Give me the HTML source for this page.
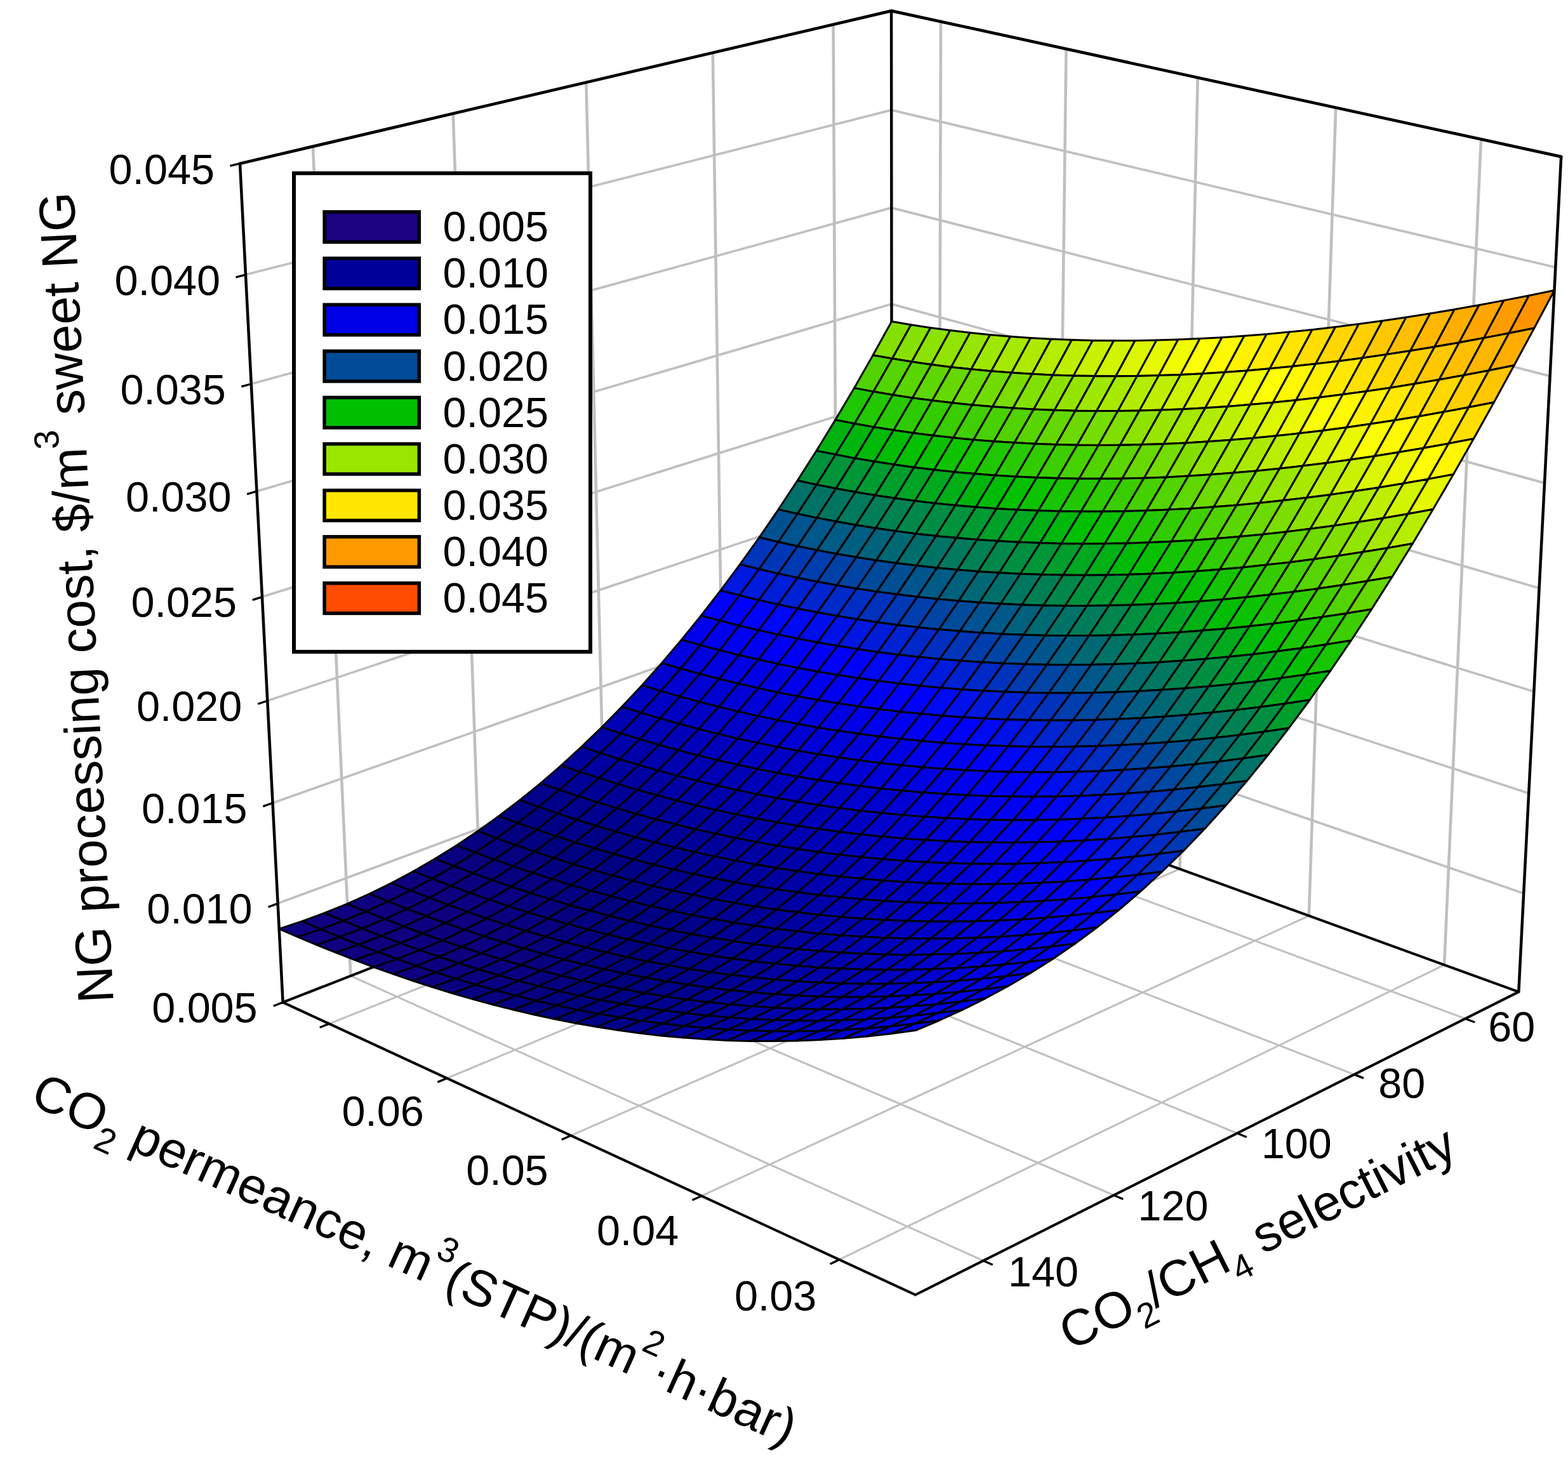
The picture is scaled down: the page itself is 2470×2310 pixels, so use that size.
<!DOCTYPE html>
<html lang="en">
<head>
<meta charset="utf-8">
<title>NG processing cost surface</title>
<style>
html,body{margin:0;padding:0;background:#fff;}
body{width:2470px;height:2310px;overflow:hidden;}
svg{display:block;}
</style>
</head>
<body>
<svg xmlns="http://www.w3.org/2000/svg" width="2470" height="2310" viewBox="0 0 2470 2310">
<rect width="2470" height="2310" fill="#fff"/>
<g stroke-linecap="butt" fill="none">
<g stroke="#c0c0c0" stroke-width="3.1">
<path d="M2275.1 1520.4L1322.1 1984.8"/>
<path d="M2061.9 1443L1105.1 1884.4"/>
<path d="M1858.5 1369.2L899.4 1789.3"/>
<path d="M1664.2 1298.8L704.1 1699"/>
<path d="M1478.5 1231.4L518.5 1613.1"/>
<path d="M2308.2 1605.2L1318.9 1238.5"/>
<path d="M2133.2 1693.1L1140.6 1308.1"/>
<path d="M1948.9 1785.7L953.8 1381"/>
<path d="M1754.5 1883.3L757.9 1457.5"/>
<path d="M1549.1 1986.5L552.3 1537.7"/>
</g>
<g stroke="#c0c0c0" stroke-width="3.7">
<path d="M437.6 1423.6L1405 1063.9"/>
<path d="M1405 1063.9L2400.2 1407.7"/>
<path d="M429.5 1265.2L1404.9 920.9"/>
<path d="M1404.9 920.9L2408.2 1250.1"/>
<path d="M421.3 1104.3L1404.8 775.8"/>
<path d="M1404.8 775.8L2416.4 1089.8"/>
<path d="M412.9 940.6L1404.6 628.5"/>
<path d="M1404.6 628.5L2424.6 926.8"/>
<path d="M404.4 774.2L1404.5 479.1"/>
<path d="M1404.5 479.1L2433.1 761.1"/>
<path d="M395.8 605L1404.4 327.4"/>
<path d="M1404.4 327.4L2441.6 592.6"/>
<path d="M387 432.8L1404.3 173.4"/>
<path d="M1404.3 173.4L2450.3 421.2"/>
</g>
<g stroke="#c0c0c0" stroke-width="4.6">
<path d="M2275.1 1520.4L2333 219.4"/>
<path d="M2061.9 1443L2104.2 169.6"/>
<path d="M1858.5 1369.2L1886.7 122.2"/>
<path d="M1664.2 1298.8L1679.5 77.1"/>
<path d="M1478.5 1231.4L1482 34"/>
<path d="M1318.9 1238.5L1312.6 38.5"/>
<path d="M1140.6 1308.1L1122.8 83"/>
<path d="M953.8 1381L923.4 129.8"/>
<path d="M757.9 1457.5L713.7 179"/>
<path d="M552.3 1537.7L492.9 230.7"/>
</g>
<g stroke="#000" stroke-linejoin="round" stroke-linecap="round">
<path stroke-width="4.0" d="M1442 2040.3L445.6 1579.4L1405.1 1204.8L2392.3 1562.9L1442 2040.3"/>
<path stroke-width="4.5" d="M1405.1 1204.8L1404.1 17.1"/>
<path stroke-width="4.5" d="M445.6 1579.4L378 257.7"/>
<path stroke-width="4.5" d="M2392.3 1562.9L2459.2 246.9"/>
<path stroke-width="4.7" d="M378 257.7L1404.1 17.1L2459.2 246.9"/>
</g>
</g>
<g stroke="#000" stroke-width="3" stroke-linejoin="round">
<path fill="#83e000" d="M1404.5 506.6L1435.1 511.7L1405.6 565.1L1375.1 559.8Z"/>
<path fill="#50d300" d="M1375.1 559.8L1405.6 565.1L1376 617.1L1345.6 611.4Z"/>
<path fill="#87e100" d="M1435.1 511.7L1465.9 516.4L1436.3 570L1405.6 565.1Z"/>
<path fill="#1ec700" d="M1345.6 611.4L1376 617.1L1346.2 667.5L1315.9 661.6Z"/>
<path fill="#54d400" d="M1405.6 565.1L1436.3 570L1406.6 622.2L1376 617.1Z"/>
<path fill="#8ce200" d="M1465.9 516.4L1496.9 520.5L1467.2 574.4L1436.3 570Z"/>
<path fill="#00b211" d="M1315.9 661.6L1346.2 667.5L1316.4 716.3L1286.1 710.2Z"/>
<path fill="#23c800" d="M1376 617.1L1406.6 622.2L1376.8 672.9L1346.2 667.5Z"/>
<path fill="#59d500" d="M1436.3 570L1467.2 574.4L1437.5 626.9L1406.6 622.2Z"/>
<path fill="#91e300" d="M1496.9 520.5L1528.1 524.2L1498.4 578.4L1467.2 574.4Z"/>
<path fill="#00913e" d="M1286.1 710.2L1316.4 716.3L1286.4 763.7L1256.2 757.2Z"/>
<path fill="#00b50d" d="M1346.2 667.5L1376.8 672.9L1346.9 722.1L1316.4 716.3Z"/>
<path fill="#27c900" d="M1406.6 622.2L1437.5 626.9L1407.7 677.8L1376.8 672.9Z"/>
<path fill="#5ed700" d="M1467.2 574.4L1498.4 578.4L1468.6 631L1437.5 626.9Z"/>
<path fill="#97e500" d="M1528.1 524.2L1559.7 527.5L1529.9 581.8L1498.4 578.4Z"/>
<path fill="#007069" d="M1256.2 757.2L1286.4 763.7L1256.3 809.6L1226.2 802.8Z"/>
<path fill="#00933a" d="M1316.4 716.3L1346.9 722.1L1316.9 769.7L1286.4 763.7Z"/>
<path fill="#00b908" d="M1376.8 672.9L1407.7 677.8L1377.7 727.3L1346.9 722.1Z"/>
<path fill="#2dca00" d="M1437.5 626.9L1468.6 631L1438.7 682.3L1407.7 677.8Z"/>
<path fill="#64d800" d="M1498.4 578.4L1529.9 581.8L1500 634.8L1468.6 631Z"/>
<path fill="#9ee700" d="M1559.7 527.5L1591.5 530.2L1561.6 584.8L1529.9 581.8Z"/>
<path fill="#005192" d="M1226.2 802.8L1256.3 809.6L1226.1 854L1196 846.8Z"/>
<path fill="#007365" d="M1286.4 763.7L1316.9 769.7L1286.8 815.9L1256.3 809.6Z"/>
<path fill="#009736" d="M1346.9 722.1L1377.7 727.3L1347.6 775.3L1316.9 769.7Z"/>
<path fill="#00bd03" d="M1407.7 677.8L1438.7 682.3L1408.7 732.1L1377.7 727.3Z"/>
<path fill="#33cc00" d="M1468.6 631L1500 634.8L1470.1 686.3L1438.7 682.3Z"/>
<path fill="#6bda00" d="M1529.9 581.8L1561.6 584.8L1531.7 638L1500 634.8Z"/>
<path fill="#a5e800" d="M1591.5 530.2L1623.5 532.4L1593.6 587.3L1561.6 584.8Z"/>
<path fill="#0034ba" d="M1196 846.8L1226.1 854L1195.7 896.8L1165.6 889.4Z"/>
<path fill="#00548f" d="M1256.3 809.6L1286.8 815.9L1256.5 860.7L1226.1 854Z"/>
<path fill="#007661" d="M1316.9 769.7L1347.6 775.3L1317.4 821.8L1286.8 815.9Z"/>
<path fill="#009b31" d="M1377.7 727.3L1408.7 732.1L1378.6 780.4L1347.6 775.3Z"/>
<path fill="#03c000" d="M1438.7 682.3L1470.1 686.3L1440 736.4L1408.7 732.1Z"/>
<path fill="#39cd00" d="M1500 634.8L1531.7 638L1501.7 689.8L1470.1 686.3Z"/>
<path fill="#72dc00" d="M1561.6 584.8L1593.6 587.3L1563.6 640.8L1531.7 638Z"/>
<path fill="#adea00" d="M1623.5 532.4L1655.8 534.2L1625.9 589.3L1593.6 587.3Z"/>
<path fill="#0018df" d="M1165.6 889.4L1195.7 896.8L1165.1 938.2L1135.1 930.4Z"/>
<path fill="#0037b6" d="M1226.1 854L1256.5 860.7L1226 903.9L1195.7 896.8Z"/>
<path fill="#00578b" d="M1286.8 815.9L1317.4 821.8L1287.1 866.9L1256.5 860.7Z"/>
<path fill="#007a5c" d="M1347.6 775.3L1378.6 780.4L1348.3 827.3L1317.4 821.8Z"/>
<path fill="#009f2b" d="M1408.7 732.1L1440 736.4L1409.8 785.1L1378.6 780.4Z"/>
<path fill="#09c100" d="M1470.1 686.3L1501.7 689.8L1471.5 740.3L1440 736.4Z"/>
<path fill="#40cf00" d="M1531.7 638L1563.6 640.8L1533.5 692.9L1501.7 689.8Z"/>
<path fill="#79dd00" d="M1593.6 587.3L1625.9 589.3L1595.8 643.1L1563.6 640.8Z"/>
<path fill="#b5ec00" d="M1655.8 534.2L1688.4 535.5L1658.4 590.9L1625.9 589.3Z"/>
<path fill="#0000fd" d="M1135.1 930.4L1165.1 938.2L1134.4 978.1L1104.4 970Z"/>
<path fill="#001bdc" d="M1195.7 896.8L1226 903.9L1195.4 945.6L1165.1 938.2Z"/>
<path fill="#003ab2" d="M1256.5 860.7L1287.1 866.9L1256.6 910.4L1226 903.9Z"/>
<path fill="#005b86" d="M1317.4 821.8L1348.3 827.3L1317.9 872.7L1287.1 866.9Z"/>
<path fill="#007e57" d="M1378.6 780.4L1409.8 785.1L1379.5 832.3L1348.3 827.3Z"/>
<path fill="#00a425" d="M1440 736.4L1471.5 740.3L1441.3 789.3L1409.8 785.1Z"/>
<path fill="#10c300" d="M1501.7 689.8L1533.5 692.9L1503.3 743.7L1471.5 740.3Z"/>
<path fill="#48d100" d="M1563.6 640.8L1595.8 643.1L1565.6 695.5L1533.5 692.9Z"/>
<path fill="#82e000" d="M1625.9 589.3L1658.4 590.9L1628.3 644.9L1595.8 643.1Z"/>
<path fill="#beef00" d="M1688.4 535.5L1721.3 536.4L1691.2 591.9L1658.4 590.9Z"/>
<path fill="#0000ed" d="M1104.4 970L1134.4 978.1L1103.5 1016.5L1073.5 1008.1Z"/>
<path fill="#0000ff" d="M1165.1 938.2L1195.4 945.6L1164.6 985.8L1134.4 978.1Z"/>
<path fill="#001dd8" d="M1226 903.9L1256.6 910.4L1225.9 952.5L1195.4 945.6Z"/>
<path fill="#003dae" d="M1287.1 866.9L1317.9 872.7L1287.4 916.6L1256.6 910.4Z"/>
<path fill="#005f80" d="M1348.3 827.3L1379.5 832.3L1349 878L1317.9 872.7Z"/>
<path fill="#008351" d="M1409.8 785.1L1441.3 789.3L1410.9 836.8L1379.5 832.3Z"/>
<path fill="#00a91e" d="M1471.5 740.3L1503.3 743.7L1473 793L1441.3 789.3Z"/>
<path fill="#18c500" d="M1533.5 692.9L1565.6 695.5L1535.4 746.6L1503.3 743.7Z"/>
<path fill="#50d300" d="M1595.8 643.1L1628.3 644.9L1598 697.6L1565.6 695.5Z"/>
<path fill="#8be200" d="M1658.4 590.9L1691.2 591.9L1661 646.3L1628.3 644.9Z"/>
<path fill="#c8f100" d="M1721.3 536.4L1754.5 536.8L1724.3 592.6L1691.2 591.9Z"/>
<path fill="#0000dd" d="M1073.5 1008.1L1103.5 1016.5L1072.4 1053.5L1042.5 1044.7Z"/>
<path fill="#0000ee" d="M1134.4 978.1L1164.6 985.8L1133.7 1024.6L1103.5 1016.5Z"/>
<path fill="#0003fb" d="M1195.4 945.6L1225.9 952.5L1195.1 993.1L1164.6 985.8Z"/>
<path fill="#0021d3" d="M1256.6 910.4L1287.4 916.6L1256.7 959L1225.9 952.5Z"/>
<path fill="#0041a8" d="M1317.9 872.7L1349 878L1318.4 922.3L1287.4 916.6Z"/>
<path fill="#00637b" d="M1379.5 832.3L1410.9 836.8L1380.4 882.9L1349 878Z"/>
<path fill="#00884a" d="M1441.3 789.3L1473 793L1442.6 840.9L1410.9 836.8Z"/>
<path fill="#00ae16" d="M1503.3 743.7L1535.4 746.6L1505 796.2L1473 793Z"/>
<path fill="#20c700" d="M1565.6 695.5L1598 697.6L1567.7 749L1535.4 746.6Z"/>
<path fill="#59d500" d="M1628.3 644.9L1661 646.3L1630.7 699.3L1598 697.6Z"/>
<path fill="#94e400" d="M1691.2 591.9L1724.3 592.6L1694 647.2L1661 646.3Z"/>
<path fill="#d1f400" d="M1754.5 536.8L1788 536.7L1757.7 592.7L1724.3 592.6Z"/>
<path fill="#0000ce" d="M1042.5 1044.7L1072.4 1053.5L1041.1 1088.9L1011.2 1079.9Z"/>
<path fill="#0000de" d="M1103.5 1016.5L1133.7 1024.6L1102.5 1061.8L1072.4 1053.5Z"/>
<path fill="#0000f0" d="M1164.6 985.8L1195.1 993.1L1164.1 1032.2L1133.7 1024.6Z"/>
<path fill="#0006f7" d="M1225.9 952.5L1256.7 959L1225.8 999.9L1195.1 993.1Z"/>
<path fill="#0024ce" d="M1287.4 916.6L1318.4 922.3L1287.7 965L1256.7 959Z"/>
<path fill="#0045a3" d="M1349 878L1380.4 882.9L1349.7 927.5L1318.4 922.3Z"/>
<path fill="#006874" d="M1410.9 836.8L1442.6 840.9L1412 887.3L1380.4 882.9Z"/>
<path fill="#008d43" d="M1473 793L1505 796.2L1474.5 844.5L1442.6 840.9Z"/>
<path fill="#00b40e" d="M1535.4 746.6L1567.7 749L1537.3 799L1505 796.2Z"/>
<path fill="#29c900" d="M1598 697.6L1630.7 699.3L1600.3 751L1567.7 749Z"/>
<path fill="#62d800" d="M1661 646.3L1694 647.2L1663.7 700.5L1630.7 699.3Z"/>
<path fill="#9ee700" d="M1724.3 592.6L1757.7 592.7L1727.4 647.6L1694 647.2Z"/>
<path fill="#dcf600" d="M1788 536.7L1821.8 536.1L1791.4 592.4L1757.7 592.7Z"/>
<path fill="#0000c1" d="M1011.2 1079.9L1041.1 1088.9L1009.6 1123L979.7 1113.6Z"/>
<path fill="#0000d0" d="M1072.4 1053.5L1102.5 1061.8L1071.2 1097.6L1041.1 1088.9Z"/>
<path fill="#0000e0" d="M1133.7 1024.6L1164.1 1032.2L1132.9 1069.8L1102.5 1061.8Z"/>
<path fill="#0000f2" d="M1195.1 993.1L1225.8 999.9L1194.8 1039.3L1164.1 1032.2Z"/>
<path fill="#000af2" d="M1256.7 959L1287.7 965L1256.8 1006.3L1225.8 999.9Z"/>
<path fill="#0029c9" d="M1318.4 922.3L1349.7 927.5L1318.9 970.6L1287.7 965Z"/>
<path fill="#004a9c" d="M1380.4 882.9L1412 887.3L1381.3 932.3L1349.7 927.5Z"/>
<path fill="#006d6d" d="M1442.6 840.9L1474.5 844.5L1443.9 891.3L1412 887.3Z"/>
<path fill="#00933b" d="M1505 796.2L1537.3 799L1506.7 847.6L1474.5 844.5Z"/>
<path fill="#00bb06" d="M1567.7 749L1600.3 751L1569.8 801.4L1537.3 799Z"/>
<path fill="#32cb00" d="M1630.7 699.3L1663.7 700.5L1633.2 752.6L1600.3 751Z"/>
<path fill="#6cda00" d="M1694 647.2L1727.4 647.6L1696.9 701.3L1663.7 700.5Z"/>
<path fill="#a8e900" d="M1757.7 592.7L1791.4 592.4L1761 647.6L1727.4 647.6Z"/>
<path fill="#e7f900" d="M1821.8 536.1L1855.8 535.1L1825.4 591.6L1791.4 592.4Z"/>
<path fill="#0000b4" d="M979.7 1113.6L1009.6 1123L977.9 1155.5L948.1 1145.8Z"/>
<path fill="#0000c2" d="M1041.1 1088.9L1071.2 1097.6L1039.7 1131.9L1009.6 1123Z"/>
<path fill="#0000d1" d="M1102.5 1061.8L1132.9 1069.8L1101.5 1105.9L1071.2 1097.6Z"/>
<path fill="#0000e2" d="M1164.1 1032.2L1194.8 1039.3L1163.5 1077.3L1132.9 1069.8Z"/>
<path fill="#0000f4" d="M1225.8 999.9L1256.8 1006.3L1225.7 1046.1L1194.8 1039.3Z"/>
<path fill="#000eed" d="M1287.7 965L1318.9 970.6L1287.9 1012.3L1256.8 1006.3Z"/>
<path fill="#002dc3" d="M1349.7 927.5L1381.3 932.3L1350.4 975.8L1318.9 970.6Z"/>
<path fill="#004f95" d="M1412 887.3L1443.9 891.3L1413.1 936.6L1381.3 932.3Z"/>
<path fill="#007365" d="M1474.5 844.5L1506.7 847.6L1476 894.8L1443.9 891.3Z"/>
<path fill="#009932" d="M1537.3 799L1569.8 801.4L1539.2 850.3L1506.7 847.6Z"/>
<path fill="#03c000" d="M1600.3 751L1633.2 752.6L1602.6 803.2L1569.8 801.4Z"/>
<path fill="#3cce00" d="M1663.7 700.5L1696.9 701.3L1666.4 753.6L1633.2 752.6Z"/>
<path fill="#76dd00" d="M1727.4 647.6L1761 647.6L1730.5 701.5L1696.9 701.3Z"/>
<path fill="#b3ec00" d="M1791.4 592.4L1825.4 591.6L1794.9 647.1L1761 647.6Z"/>
<path fill="#f2fc00" d="M1855.8 535.1L1890.2 533.6L1859.8 590.4L1825.4 591.6Z"/>
<path fill="#0000a8" d="M948.1 1145.8L977.9 1155.5L945.9 1186.6L916.1 1176.7Z"/>
<path fill="#0000b5" d="M1009.6 1123L1039.7 1131.9L1007.9 1164.8L977.9 1155.5Z"/>
<path fill="#0000c3" d="M1071.2 1097.6L1101.5 1105.9L1070 1140.5L1039.7 1131.9Z"/>
<path fill="#0000d3" d="M1132.9 1069.8L1163.5 1077.3L1132.1 1113.7L1101.5 1105.9Z"/>
<path fill="#0000e4" d="M1194.8 1039.3L1225.7 1046.1L1194.4 1084.4L1163.5 1077.3Z"/>
<path fill="#0000f7" d="M1256.8 1006.3L1287.9 1012.3L1256.8 1052.4L1225.7 1046.1Z"/>
<path fill="#0012e7" d="M1318.9 970.6L1350.4 975.8L1319.4 1017.8L1287.9 1012.3Z"/>
<path fill="#0032bc" d="M1381.3 932.3L1413.1 936.6L1382.2 980.5L1350.4 975.8Z"/>
<path fill="#00558e" d="M1443.9 891.3L1476 894.8L1445.2 940.5L1413.1 936.6Z"/>
<path fill="#00795d" d="M1506.7 847.6L1539.2 850.3L1508.4 897.8L1476 894.8Z"/>
<path fill="#00a029" d="M1569.8 801.4L1602.6 803.2L1571.9 852.5L1539.2 850.3Z"/>
<path fill="#0dc200" d="M1633.2 752.6L1666.4 753.6L1635.8 804.6L1602.6 803.2Z"/>
<path fill="#46d100" d="M1696.9 701.3L1730.5 701.5L1699.9 754.2L1666.4 753.6Z"/>
<path fill="#81df00" d="M1761 647.6L1794.9 647.1L1764.4 701.3L1730.5 701.5Z"/>
<path fill="#bfef00" d="M1825.4 591.6L1859.8 590.4L1829.2 646.1L1794.9 647.1Z"/>
<path fill="#feff00" d="M1890.2 533.6L1925 531.7L1894.4 588.7L1859.8 590.4Z"/>
<path fill="#00009d" d="M916.1 1176.7L945.9 1186.6L913.7 1216.3L884 1206.1Z"/>
<path fill="#0000a9" d="M977.9 1155.5L1007.9 1164.8L975.9 1196.2L945.9 1186.6Z"/>
<path fill="#0000b6" d="M1039.7 1131.9L1070 1140.5L1038.2 1173.7L1007.9 1164.8Z"/>
<path fill="#0000c5" d="M1101.5 1105.9L1132.1 1113.7L1100.5 1148.7L1070 1140.5Z"/>
<path fill="#0000d5" d="M1163.5 1077.3L1194.4 1084.4L1162.9 1121.1L1132.1 1113.7Z"/>
<path fill="#0000e7" d="M1225.7 1046.1L1256.8 1052.4L1225.5 1091L1194.4 1084.4Z"/>
<path fill="#0000fa" d="M1287.9 1012.3L1319.4 1017.8L1288.2 1058.2L1256.8 1052.4Z"/>
<path fill="#0017e0" d="M1350.4 975.8L1382.2 980.5L1351.1 1022.8L1319.4 1017.8Z"/>
<path fill="#0038b5" d="M1413.1 936.6L1445.2 940.5L1414.2 984.7L1382.2 980.5Z"/>
<path fill="#005b86" d="M1476 894.8L1508.4 897.8L1477.6 943.9L1445.2 940.5Z"/>
<path fill="#008054" d="M1539.2 850.3L1571.9 852.5L1541.1 900.4L1508.4 897.8Z"/>
<path fill="#00a720" d="M1602.6 803.2L1635.8 804.6L1605 854.3L1571.9 852.5Z"/>
<path fill="#17c500" d="M1666.4 753.6L1699.9 754.2L1669.2 805.6L1635.8 804.6Z"/>
<path fill="#51d300" d="M1730.5 701.5L1764.4 701.3L1733.7 754.3L1699.9 754.2Z"/>
<path fill="#8de200" d="M1794.9 647.1L1829.2 646.1L1798.5 700.6L1764.4 701.3Z"/>
<path fill="#cbf200" d="M1859.8 590.4L1894.4 588.7L1863.7 644.7L1829.2 646.1Z"/>
<path fill="#fff900" d="M1925 531.7L1960 529.3L1929.4 586.5L1894.4 588.7Z"/>
<path fill="#000093" d="M884 1206.1L913.7 1216.3L881.3 1244.5L851.6 1234.1Z"/>
<path fill="#00009e" d="M945.9 1186.6L975.9 1196.2L943.7 1226.1L913.7 1216.3Z"/>
<path fill="#0000aa" d="M1007.9 1164.8L1038.2 1173.7L1006.2 1205.3L975.9 1196.2Z"/>
<path fill="#0000b8" d="M1070 1140.5L1100.5 1148.7L1068.7 1182.1L1038.2 1173.7Z"/>
<path fill="#0000c7" d="M1132.1 1113.7L1162.9 1121.1L1131.3 1156.4L1100.5 1148.7Z"/>
<path fill="#0000d8" d="M1194.4 1084.4L1225.5 1091L1194 1128.1L1162.9 1121.1Z"/>
<path fill="#0000ea" d="M1256.8 1052.4L1288.2 1058.2L1256.9 1097.2L1225.5 1091Z"/>
<path fill="#0000fd" d="M1319.4 1017.8L1351.1 1022.8L1319.9 1063.6L1288.2 1058.2Z"/>
<path fill="#001cd9" d="M1382.2 980.5L1414.2 984.7L1383.1 1027.4L1351.1 1022.8Z"/>
<path fill="#003ead" d="M1445.2 940.5L1477.6 943.9L1446.5 988.5L1414.2 984.7Z"/>
<path fill="#00617d" d="M1508.4 897.8L1541.1 900.4L1510.2 946.8L1477.6 943.9Z"/>
<path fill="#00874b" d="M1571.9 852.5L1605 854.3L1574.1 902.5L1541.1 900.4Z"/>
<path fill="#00af16" d="M1635.8 804.6L1669.2 805.6L1638.4 855.6L1605 854.3Z"/>
<path fill="#22c700" d="M1699.9 754.2L1733.7 754.3L1702.9 806L1669.2 805.6Z"/>
<path fill="#5cd600" d="M1764.4 701.3L1798.5 700.6L1767.8 754L1733.7 754.3Z"/>
<path fill="#99e500" d="M1829.2 646.1L1863.7 644.7L1833 699.5L1798.5 700.6Z"/>
<path fill="#d7f500" d="M1894.4 588.7L1929.4 586.5L1898.6 642.8L1863.7 644.7Z"/>
<path fill="#fff300" d="M1960 529.3L1995.4 526.4L1964.7 583.9L1929.4 586.5Z"/>
<path fill="#00008a" d="M851.6 1234.1L881.3 1244.5L848.6 1271.4L818.9 1260.6Z"/>
<path fill="#000094" d="M913.7 1216.3L943.7 1226.1L911.2 1254.6L881.3 1244.5Z"/>
<path fill="#00009f" d="M975.9 1196.2L1006.2 1205.3L973.9 1235.6L943.7 1226.1Z"/>
<path fill="#0000ac" d="M1038.2 1173.7L1068.7 1182.1L1036.6 1214.1L1006.2 1205.3Z"/>
<path fill="#0000ba" d="M1100.5 1148.7L1131.3 1156.4L1099.4 1190.2L1068.7 1182.1Z"/>
<path fill="#0000c9" d="M1162.9 1121.1L1194 1128.1L1162.3 1163.7L1131.3 1156.4Z"/>
<path fill="#0000da" d="M1225.5 1091L1256.9 1097.2L1225.3 1134.6L1194 1128.1Z"/>
<path fill="#0000ed" d="M1288.2 1058.2L1319.9 1063.6L1288.5 1103L1256.9 1097.2Z"/>
<path fill="#0002fc" d="M1351.1 1022.8L1383.1 1027.4L1351.8 1068.6L1319.9 1063.6Z"/>
<path fill="#0022d2" d="M1414.2 984.7L1446.5 988.5L1415.4 1031.5L1383.1 1027.4Z"/>
<path fill="#0044a4" d="M1477.6 943.9L1510.2 946.8L1479.1 991.8L1446.5 988.5Z"/>
<path fill="#006874" d="M1541.1 900.4L1574.1 902.5L1543.1 949.3L1510.2 946.8Z"/>
<path fill="#008e41" d="M1605 854.3L1638.4 855.6L1607.4 904.2L1574.1 902.5Z"/>
<path fill="#00b70b" d="M1669.2 805.6L1702.9 806L1672 856.4L1638.4 855.6Z"/>
<path fill="#2dca00" d="M1733.7 754.3L1767.8 754L1736.9 806L1702.9 806Z"/>
<path fill="#68d900" d="M1798.5 700.6L1833 699.5L1802.2 753.2L1767.8 754Z"/>
<path fill="#a5e800" d="M1863.7 644.7L1898.6 642.8L1867.8 697.9L1833 699.5Z"/>
<path fill="#e4f800" d="M1929.4 586.5L1964.7 583.9L1933.9 640.4L1898.6 642.8Z"/>
<path fill="#ffec00" d="M1995.4 526.4L2031.1 523.1L2000.3 580.8L1964.7 583.9Z"/>
<path fill="#000082" d="M818.9 1260.6L848.6 1271.4L815.6 1296.8L786 1285.8Z"/>
<path fill="#00008b" d="M881.3 1244.5L911.2 1254.6L878.5 1281.7L848.6 1271.4Z"/>
<path fill="#000095" d="M943.7 1226.1L973.9 1235.6L941.4 1264.3L911.2 1254.6Z"/>
<path fill="#0000a1" d="M1006.2 1205.3L1036.6 1214.1L1004.3 1244.6L973.9 1235.6Z"/>
<path fill="#0000ae" d="M1068.7 1182.1L1099.4 1190.2L1067.3 1222.4L1036.6 1214.1Z"/>
<path fill="#0000bc" d="M1131.3 1156.4L1162.3 1163.7L1130.4 1197.8L1099.4 1190.2Z"/>
<path fill="#0000cc" d="M1194 1128.1L1225.3 1134.6L1193.6 1170.6L1162.3 1163.7Z"/>
<path fill="#0000dd" d="M1256.9 1097.2L1288.5 1103L1256.9 1140.7L1225.3 1134.6Z"/>
<path fill="#0000f0" d="M1319.9 1063.6L1351.8 1068.6L1320.4 1108.3L1288.5 1103Z"/>
<path fill="#0008f5" d="M1383.1 1027.4L1415.4 1031.5L1384 1073.1L1351.8 1068.6Z"/>
<path fill="#0028c9" d="M1446.5 988.5L1479.1 991.8L1447.9 1035.2L1415.4 1031.5Z"/>
<path fill="#004b9b" d="M1510.2 946.8L1543.1 949.3L1512 994.6L1479.1 991.8Z"/>
<path fill="#006f6a" d="M1574.1 902.5L1607.4 904.2L1576.4 951.3L1543.1 949.3Z"/>
<path fill="#009637" d="M1638.4 855.6L1672 856.4L1641 905.3L1607.4 904.2Z"/>
<path fill="#00bf00" d="M1702.9 806L1736.9 806L1706 856.7L1672 856.4Z"/>
<path fill="#39cd00" d="M1767.8 754L1802.2 753.2L1771.3 805.5L1736.9 806Z"/>
<path fill="#74dc00" d="M1833 699.5L1867.8 697.9L1836.9 751.9L1802.2 753.2Z"/>
<path fill="#b2ec00" d="M1898.6 642.8L1933.9 640.4L1903 695.8L1867.8 697.9Z"/>
<path fill="#f2fc00" d="M1964.7 583.9L2000.3 580.8L1969.4 637.6L1933.9 640.4Z"/>
<path fill="#ffe500" d="M2031.1 523.1L2067.2 519.4L2036.3 577.3L2000.3 580.8Z"/>
<path fill="#02007f" d="M786 1285.8L815.6 1296.8L782.4 1320.8L752.8 1309.6Z"/>
<path fill="#000083" d="M848.6 1271.4L878.5 1281.7L845.5 1307.4L815.6 1296.8Z"/>
<path fill="#00008c" d="M911.2 1254.6L941.4 1264.3L908.7 1291.7L878.5 1281.7Z"/>
<path fill="#000097" d="M973.9 1235.6L1004.3 1244.6L971.8 1273.6L941.4 1264.3Z"/>
<path fill="#0000a3" d="M1036.6 1214.1L1067.3 1222.4L1035 1253.2L1004.3 1244.6Z"/>
<path fill="#0000b0" d="M1099.4 1190.2L1130.4 1197.8L1098.3 1230.4L1067.3 1222.4Z"/>
<path fill="#0000bf" d="M1162.3 1163.7L1193.6 1170.6L1161.6 1205L1130.4 1197.8Z"/>
<path fill="#0000cf" d="M1225.3 1134.6L1256.9 1140.7L1225.1 1177L1193.6 1170.6Z"/>
<path fill="#0000e1" d="M1288.5 1103L1320.4 1108.3L1288.7 1146.4L1256.9 1140.7Z"/>
<path fill="#0000f4" d="M1351.8 1068.6L1384 1073.1L1352.5 1113.1L1320.4 1108.3Z"/>
<path fill="#000eed" d="M1415.4 1031.5L1447.9 1035.2L1416.5 1077.1L1384 1073.1Z"/>
<path fill="#002fc1" d="M1479.1 991.8L1512 994.6L1480.7 1038.4L1447.9 1035.2Z"/>
<path fill="#005292" d="M1543.1 949.3L1576.4 951.3L1545.2 997L1512 994.6Z"/>
<path fill="#007760" d="M1607.4 904.2L1641 905.3L1609.9 952.9L1576.4 951.3Z"/>
<path fill="#009e2c" d="M1672 856.4L1706 856.7L1674.9 906L1641 905.3Z"/>
<path fill="#0bc200" d="M1736.9 806L1771.3 805.5L1740.3 856.6L1706 856.7Z"/>
<path fill="#45d000" d="M1802.2 753.2L1836.9 751.9L1806 804.6L1771.3 805.5Z"/>
<path fill="#81df00" d="M1867.8 697.9L1903 695.8L1872 750.1L1836.9 751.9Z"/>
<path fill="#bfef00" d="M1933.9 640.4L1969.4 637.6L1938.5 693.3L1903 695.8Z"/>
<path fill="#ffff00" d="M2000.3 580.8L2036.3 577.3L2005.3 634.3L1969.4 637.6Z"/>
<path fill="#ffde00" d="M2067.2 519.4L2103.6 515.2L2072.6 573.3L2036.3 577.3Z"/>
<path fill="#05007f" d="M752.8 1309.6L782.4 1320.8L748.9 1343.4L719.3 1332.1Z"/>
<path fill="#02007f" d="M815.6 1296.8L845.5 1307.4L812.3 1331.6L782.4 1320.8Z"/>
<path fill="#000084" d="M878.5 1281.7L908.7 1291.7L875.6 1317.5L845.5 1307.4Z"/>
<path fill="#00008e" d="M941.4 1264.3L971.8 1273.6L939 1301.2L908.7 1291.7Z"/>
<path fill="#000099" d="M1004.3 1244.6L1035 1253.2L1002.5 1282.5L971.8 1273.6Z"/>
<path fill="#0000a5" d="M1067.3 1222.4L1098.3 1230.4L1065.9 1261.4L1035 1253.2Z"/>
<path fill="#0000b2" d="M1130.4 1197.8L1161.6 1205L1129.5 1237.8L1098.3 1230.4Z"/>
<path fill="#0000c2" d="M1193.6 1170.6L1225.1 1177L1193.1 1211.7L1161.6 1205Z"/>
<path fill="#0000d2" d="M1256.9 1140.7L1288.7 1146.4L1256.9 1183L1225.1 1177Z"/>
<path fill="#0000e4" d="M1320.4 1108.3L1352.5 1113.1L1320.9 1151.6L1288.7 1146.4Z"/>
<path fill="#0000f8" d="M1384 1073.1L1416.5 1077.1L1385 1117.5L1352.5 1113.1Z"/>
<path fill="#0014e4" d="M1447.9 1035.2L1480.7 1038.4L1449.3 1080.7L1416.5 1077.1Z"/>
<path fill="#0036b7" d="M1512 994.6L1545.2 997L1513.8 1041.2L1480.7 1038.4Z"/>
<path fill="#005988" d="M1576.4 951.3L1609.9 952.9L1578.6 998.9L1545.2 997Z"/>
<path fill="#007f55" d="M1641 905.3L1674.9 906L1643.7 953.9L1609.9 952.9Z"/>
<path fill="#00a720" d="M1706 856.7L1740.3 856.6L1709.1 906.2L1674.9 906Z"/>
<path fill="#18c500" d="M1771.3 805.5L1806 804.6L1774.9 856L1740.3 856.6Z"/>
<path fill="#52d400" d="M1836.9 751.9L1872 750.1L1841 803.1L1806 804.6Z"/>
<path fill="#8fe300" d="M1903 695.8L1938.5 693.3L1907.4 747.8L1872 750.1Z"/>
<path fill="#cdf300" d="M1969.4 637.6L2005.3 634.3L1974.3 690.3L1938.5 693.3Z"/>
<path fill="#fff800" d="M2036.3 577.3L2072.6 573.3L2041.6 630.5L2005.3 634.3Z"/>
<path fill="#ffd600" d="M2103.6 515.2L2140.4 510.6L2109.3 568.9L2072.6 573.3Z"/>
<path fill="#08007f" d="M719.3 1332.1L748.9 1343.4L715.1 1364.7L685.5 1353.1Z"/>
<path fill="#05007f" d="M782.4 1320.8L812.3 1331.6L778.7 1354.4L748.9 1343.4Z"/>
<path fill="#01007f" d="M845.5 1307.4L875.6 1317.5L842.4 1342L812.3 1331.6Z"/>
<path fill="#000086" d="M908.7 1291.7L939 1301.2L906 1327.3L875.6 1317.5Z"/>
<path fill="#00008f" d="M971.8 1273.6L1002.5 1282.5L969.6 1310.4L939 1301.2Z"/>
<path fill="#00009b" d="M1035 1253.2L1065.9 1261.4L1033.3 1291L1002.5 1282.5Z"/>
<path fill="#0000a7" d="M1098.3 1230.4L1129.5 1237.8L1097.1 1269.2L1065.9 1261.4Z"/>
<path fill="#0000b5" d="M1161.6 1205L1193.1 1211.7L1160.9 1244.9L1129.5 1237.8Z"/>
<path fill="#0000c5" d="M1225.1 1177L1256.9 1183L1224.9 1218L1193.1 1211.7Z"/>
<path fill="#0000d6" d="M1288.7 1146.4L1320.9 1151.6L1289 1188.5L1256.9 1183Z"/>
<path fill="#0000e8" d="M1352.5 1113.1L1385 1117.5L1353.2 1156.3L1320.9 1151.6Z"/>
<path fill="#0000fc" d="M1416.5 1077.1L1449.3 1080.7L1417.7 1121.4L1385 1117.5Z"/>
<path fill="#001bdb" d="M1480.7 1038.4L1513.8 1041.2L1482.3 1083.8L1449.3 1080.7Z"/>
<path fill="#003dad" d="M1545.2 997L1578.6 998.9L1547.2 1043.4L1513.8 1041.2Z"/>
<path fill="#00617d" d="M1609.9 952.9L1643.7 953.9L1612.4 1000.3L1578.6 998.9Z"/>
<path fill="#00884a" d="M1674.9 906L1709.1 906.2L1677.9 954.5L1643.7 953.9Z"/>
<path fill="#00b014" d="M1740.3 856.6L1774.9 856L1743.7 906L1709.1 906.2Z"/>
<path fill="#24c800" d="M1806 804.6L1841 803.1L1809.8 854.8L1774.9 856Z"/>
<path fill="#5fd700" d="M1872 750.1L1907.4 747.8L1876.3 801.2L1841 803.1Z"/>
<path fill="#9ce600" d="M1938.5 693.3L1974.3 690.3L1943.2 745.1L1907.4 747.8Z"/>
<path fill="#dcf600" d="M2005.3 634.3L2041.6 630.5L2010.5 686.8L1974.3 690.3Z"/>
<path fill="#fff000" d="M2072.6 573.3L2109.3 568.9L2078.2 626.3L2041.6 630.5Z"/>
<path fill="#ffcf00" d="M2140.4 510.6L2177.5 505.5L2146.4 564L2109.3 568.9Z"/>
<path fill="#0a007f" d="M685.5 1353.1L715.1 1364.7L680.9 1384.6L651.4 1372.9Z"/>
<path fill="#08007f" d="M748.9 1343.4L778.7 1354.4L744.9 1375.9L715.1 1364.7Z"/>
<path fill="#04007f" d="M812.3 1331.6L842.4 1342L808.8 1365.1L778.7 1354.4Z"/>
<path fill="#00007f" d="M875.6 1317.5L906 1327.3L872.7 1352L842.4 1342Z"/>
<path fill="#000087" d="M939 1301.2L969.6 1310.4L936.6 1336.7L906 1327.3Z"/>
<path fill="#000091" d="M1002.5 1282.5L1033.3 1291L1000.5 1319.1L969.6 1310.4Z"/>
<path fill="#00009d" d="M1065.9 1261.4L1097.1 1269.2L1064.5 1299L1033.3 1291Z"/>
<path fill="#0000aa" d="M1129.5 1237.8L1160.9 1244.9L1128.5 1276.5L1097.1 1269.2Z"/>
<path fill="#0000b8" d="M1193.1 1211.7L1224.9 1218L1192.7 1251.5L1160.9 1244.9Z"/>
<path fill="#0000c8" d="M1256.9 1183L1289 1188.5L1256.9 1223.8L1224.9 1218Z"/>
<path fill="#0000d9" d="M1320.9 1151.6L1353.2 1156.3L1321.3 1193.5L1289 1188.5Z"/>
<path fill="#0000ec" d="M1385 1117.5L1417.7 1121.4L1385.9 1160.5L1353.2 1156.3Z"/>
<path fill="#0002fc" d="M1449.3 1080.7L1482.3 1083.8L1450.7 1124.8L1417.7 1121.4Z"/>
<path fill="#0022d1" d="M1513.8 1041.2L1547.2 1043.4L1515.7 1086.4L1482.3 1083.8Z"/>
<path fill="#0045a3" d="M1578.6 998.9L1612.4 1000.3L1581 1045.2L1547.2 1043.4Z"/>
<path fill="#006a72" d="M1643.7 953.9L1677.9 954.5L1646.5 1001.2L1612.4 1000.3Z"/>
<path fill="#00913e" d="M1709.1 906.2L1743.7 906L1712.3 954.5L1677.9 954.5Z"/>
<path fill="#00b908" d="M1774.9 856L1809.8 854.8L1778.5 905.2L1743.7 906Z"/>
<path fill="#32cb00" d="M1841 803.1L1876.3 801.2L1845.1 853.3L1809.8 854.8Z"/>
<path fill="#6dda00" d="M1907.4 747.8L1943.2 745.1L1912 798.8L1876.3 801.2Z"/>
<path fill="#abea00" d="M1974.3 690.3L2010.5 686.8L1979.3 741.9L1943.2 745.1Z"/>
<path fill="#ebfa00" d="M2041.6 630.5L2078.2 626.3L2047 682.8L2010.5 686.8Z"/>
<path fill="#ffe800" d="M2109.3 568.9L2146.4 564L2115.2 621.6L2078.2 626.3Z"/>
<path fill="#ffc700" d="M2177.5 505.5L2215 499.9L2183.9 558.6L2146.4 564Z"/>
<path fill="#0c007f" d="M651.4 1372.9L680.9 1384.6L646.5 1403.2L616.9 1391.3Z"/>
<path fill="#0a007f" d="M715.1 1364.7L744.9 1375.9L710.7 1396L680.9 1384.6Z"/>
<path fill="#07007f" d="M778.7 1354.4L808.8 1365.1L774.9 1386.7L744.9 1375.9Z"/>
<path fill="#04007f" d="M842.4 1342L872.7 1352L839.1 1375.3L808.8 1365.1Z"/>
<path fill="#000080" d="M906 1327.3L936.6 1336.7L903.2 1361.7L872.7 1352Z"/>
<path fill="#000089" d="M969.6 1310.4L1000.5 1319.1L967.4 1345.7L936.6 1336.7Z"/>
<path fill="#000094" d="M1033.3 1291L1064.5 1299L1031.6 1327.4L1000.5 1319.1Z"/>
<path fill="#00009f" d="M1097.1 1269.2L1128.5 1276.5L1095.9 1306.7L1064.5 1299Z"/>
<path fill="#0000ad" d="M1160.9 1244.9L1192.7 1251.5L1160.2 1283.4L1128.5 1276.5Z"/>
<path fill="#0000bc" d="M1224.9 1218L1256.9 1223.8L1224.7 1257.6L1192.7 1251.5Z"/>
<path fill="#0000cc" d="M1289 1188.5L1321.3 1193.5L1289.2 1229.2L1256.9 1223.8Z"/>
<path fill="#0000dd" d="M1353.2 1156.3L1385.9 1160.5L1354 1198.1L1321.3 1193.5Z"/>
<path fill="#0000f1" d="M1417.7 1121.4L1450.7 1124.8L1418.9 1164.3L1385.9 1160.5Z"/>
<path fill="#0009f3" d="M1482.3 1083.8L1515.7 1086.4L1484 1127.8L1450.7 1124.8Z"/>
<path fill="#002ac7" d="M1547.2 1043.4L1581 1045.2L1549.4 1088.5L1515.7 1086.4Z"/>
<path fill="#004d98" d="M1612.4 1000.3L1646.5 1001.2L1615 1046.4L1581 1045.2Z"/>
<path fill="#007366" d="M1677.9 954.5L1712.3 954.5L1680.9 1001.6L1646.5 1001.2Z"/>
<path fill="#009a32" d="M1743.7 906L1778.5 905.2L1747.1 954.1L1712.3 954.5Z"/>
<path fill="#06c000" d="M1809.8 854.8L1845.1 853.3L1813.7 903.9L1778.5 905.2Z"/>
<path fill="#3fcf00" d="M1876.3 801.2L1912 798.8L1880.7 851.2L1845.1 853.3Z"/>
<path fill="#7bde00" d="M1943.2 745.1L1979.3 741.9L1948 795.9L1912 798.8Z"/>
<path fill="#baee00" d="M2010.5 686.8L2047 682.8L2015.8 738.2L1979.3 741.9Z"/>
<path fill="#fafe00" d="M2078.2 626.3L2115.2 621.6L2084 678.4L2047 682.8Z"/>
<path fill="#ffe100" d="M2146.4 564L2183.9 558.6L2152.6 616.5L2115.2 621.6Z"/>
<path fill="#ffbf00" d="M2215 499.9L2252.9 494L2221.7 552.8L2183.9 558.6Z"/>
<path fill="#0e007f" d="M616.9 1391.3L646.5 1403.2L611.7 1420.4L582.2 1408.3Z"/>
<path fill="#0c007f" d="M680.9 1384.6L710.7 1396L676.3 1414.7L646.5 1403.2Z"/>
<path fill="#0a007f" d="M744.9 1375.9L774.9 1386.7L740.7 1407L710.7 1396Z"/>
<path fill="#07007f" d="M808.8 1365.1L839.1 1375.3L805.2 1397.2L774.9 1386.7Z"/>
<path fill="#03007f" d="M872.7 1352L903.2 1361.7L869.6 1385.1L839.1 1375.3Z"/>
<path fill="#000082" d="M936.6 1336.7L967.4 1345.7L934 1370.9L903.2 1361.7Z"/>
<path fill="#00008b" d="M1000.5 1319.1L1031.6 1327.4L998.5 1354.3L967.4 1345.7Z"/>
<path fill="#000096" d="M1064.5 1299L1095.9 1306.7L1063 1335.3L1031.6 1327.4Z"/>
<path fill="#0000a2" d="M1128.5 1276.5L1160.2 1283.4L1127.5 1313.8L1095.9 1306.7Z"/>
<path fill="#0000b0" d="M1192.7 1251.5L1224.7 1257.6L1192.2 1289.8L1160.2 1283.4Z"/>
<path fill="#0000bf" d="M1256.9 1223.8L1289.2 1229.2L1256.9 1263.3L1224.7 1257.6Z"/>
<path fill="#0000d0" d="M1321.3 1193.5L1354 1198.1L1321.8 1234.1L1289.2 1229.2Z"/>
<path fill="#0000e2" d="M1385.9 1160.5L1418.9 1164.3L1386.9 1202.2L1354 1198.1Z"/>
<path fill="#0000f5" d="M1450.7 1124.8L1484 1127.8L1452.1 1167.6L1418.9 1164.3Z"/>
<path fill="#0011e9" d="M1515.7 1086.4L1549.4 1088.5L1517.6 1130.2L1484 1127.8Z"/>
<path fill="#0032bc" d="M1581 1045.2L1615 1046.4L1583.3 1090.1L1549.4 1088.5Z"/>
<path fill="#00568c" d="M1646.5 1001.2L1680.9 1001.6L1649.3 1047.2L1615 1046.4Z"/>
<path fill="#007c5a" d="M1712.3 954.5L1747.1 954.1L1715.6 1001.6L1680.9 1001.6Z"/>
<path fill="#00a425" d="M1778.5 905.2L1813.7 903.9L1782.3 953.2L1747.1 954.1Z"/>
<path fill="#13c400" d="M1845.1 853.3L1880.7 851.2L1849.3 902.2L1813.7 903.9Z"/>
<path fill="#4ed200" d="M1912 798.8L1948 795.9L1916.6 848.6L1880.7 851.2Z"/>
<path fill="#8ae200" d="M1979.3 741.9L2015.8 738.2L1984.4 792.5L1948 795.9Z"/>
<path fill="#c9f100" d="M2047 682.8L2084 678.4L2052.6 734.1L2015.8 738.2Z"/>
<path fill="#fffa00" d="M2115.2 621.6L2152.6 616.5L2121.2 673.5L2084 678.4Z"/>
<path fill="#ffd800" d="M2183.9 558.6L2221.7 552.8L2190.3 610.9L2152.6 616.5Z"/>
<path fill="#ffb700" d="M2252.9 494L2291.2 487.6L2259.9 546.5L2221.7 552.8Z"/>
<path fill="#0f007f" d="M582.2 1408.3L611.7 1420.4L576.6 1436.3L547.1 1424.1Z"/>
<path fill="#0d007f" d="M646.5 1403.2L676.3 1414.7L641.5 1432.2L611.7 1420.4Z"/>
<path fill="#0b007f" d="M710.7 1396L740.7 1407L706.2 1425.9L676.3 1414.7Z"/>
<path fill="#09007f" d="M774.9 1386.7L805.2 1397.2L771 1417.7L740.7 1407Z"/>
<path fill="#06007f" d="M839.1 1375.3L869.6 1385.1L835.7 1407.2L805.2 1397.2Z"/>
<path fill="#02007f" d="M903.2 1361.7L934 1370.9L900.4 1394.6L869.6 1385.1Z"/>
<path fill="#000084" d="M967.4 1345.7L998.5 1354.3L965.1 1379.6L934 1370.9Z"/>
<path fill="#00008e" d="M1031.6 1327.4L1063 1335.3L1029.8 1362.4L998.5 1354.3Z"/>
<path fill="#000099" d="M1095.9 1306.7L1127.5 1313.8L1094.6 1342.7L1063 1335.3Z"/>
<path fill="#0000a5" d="M1160.2 1283.4L1192.2 1289.8L1159.4 1320.5L1127.5 1313.8Z"/>
<path fill="#0000b3" d="M1224.7 1257.6L1256.9 1263.3L1224.4 1295.8L1192.2 1289.8Z"/>
<path fill="#0000c3" d="M1289.2 1229.2L1321.8 1234.1L1289.5 1268.5L1256.9 1263.3Z"/>
<path fill="#0000d4" d="M1354 1198.1L1386.9 1202.2L1354.7 1238.5L1321.8 1234.1Z"/>
<path fill="#0000e6" d="M1418.9 1164.3L1452.1 1167.6L1420.1 1205.8L1386.9 1202.2Z"/>
<path fill="#0000fa" d="M1484 1127.8L1517.6 1130.2L1485.7 1170.4L1452.1 1167.6Z"/>
<path fill="#0019de" d="M1549.4 1088.5L1583.3 1090.1L1551.5 1132.2L1517.6 1130.2Z"/>
<path fill="#003bb0" d="M1615 1046.4L1649.3 1047.2L1617.6 1091.2L1583.3 1090.1Z"/>
<path fill="#005f80" d="M1680.9 1001.6L1715.6 1001.6L1684 1047.5L1649.3 1047.2Z"/>
<path fill="#00854d" d="M1747.1 954.1L1782.3 953.2L1750.7 1001L1715.6 1001.6Z"/>
<path fill="#00ae17" d="M1813.7 903.9L1849.3 902.2L1817.7 951.8L1782.3 953.2Z"/>
<path fill="#21c700" d="M1880.7 851.2L1916.6 848.6L1885.2 899.9L1849.3 902.2Z"/>
<path fill="#5cd600" d="M1948 795.9L1984.4 792.5L1953 845.5L1916.6 848.6Z"/>
<path fill="#99e600" d="M2015.8 738.2L2052.6 734.1L2021.2 788.6L1984.4 792.5Z"/>
<path fill="#d9f500" d="M2084 678.4L2121.2 673.5L2089.8 729.4L2052.6 734.1Z"/>
<path fill="#fff200" d="M2152.6 616.5L2190.3 610.9L2158.9 668.1L2121.2 673.5Z"/>
<path fill="#ffd000" d="M2221.7 552.8L2259.9 546.5L2228.5 604.8L2190.3 610.9Z"/>
<path fill="#ffae00" d="M2291.2 487.6L2329.9 480.7L2298.5 539.8L2259.9 546.5Z"/>
<path fill="#0f007f" d="M547.1 1424.1L576.6 1436.3L541.1 1451L511.6 1438.5Z"/>
<path fill="#0e007f" d="M611.7 1420.4L641.5 1432.2L606.3 1448.2L576.6 1436.3Z"/>
<path fill="#0d007f" d="M676.3 1414.7L706.2 1425.9L671.4 1443.5L641.5 1432.2Z"/>
<path fill="#0b007f" d="M740.7 1407L771 1417.7L736.5 1436.8L706.2 1425.9Z"/>
<path fill="#08007f" d="M805.2 1397.2L835.7 1407.2L801.5 1427.9L771 1417.7Z"/>
<path fill="#05007f" d="M869.6 1385.1L900.4 1394.6L866.4 1416.9L835.7 1407.2Z"/>
<path fill="#01007f" d="M934 1370.9L965.1 1379.6L931.4 1403.6L900.4 1394.6Z"/>
<path fill="#000086" d="M998.5 1354.3L1029.8 1362.4L996.4 1388L965.1 1379.6Z"/>
<path fill="#000090" d="M1063 1335.3L1094.6 1342.7L1061.4 1370L1029.8 1362.4Z"/>
<path fill="#00009c" d="M1127.5 1313.8L1159.4 1320.5L1126.5 1349.6L1094.6 1342.7Z"/>
<path fill="#0000a9" d="M1192.2 1289.8L1224.4 1295.8L1191.6 1326.7L1159.4 1320.5Z"/>
<path fill="#0000b7" d="M1256.9 1263.3L1289.5 1268.5L1256.9 1301.3L1224.4 1295.8Z"/>
<path fill="#0000c7" d="M1321.8 1234.1L1354.7 1238.5L1322.3 1273.2L1289.5 1268.5Z"/>
<path fill="#0000d8" d="M1386.9 1202.2L1420.1 1205.8L1387.8 1242.4L1354.7 1238.5Z"/>
<path fill="#0000eb" d="M1452.1 1167.6L1485.7 1170.4L1453.6 1208.9L1420.1 1205.8Z"/>
<path fill="#0001fe" d="M1517.6 1130.2L1551.5 1132.2L1519.5 1172.7L1485.7 1170.4Z"/>
<path fill="#0021d3" d="M1583.3 1090.1L1617.6 1091.2L1585.8 1133.7L1551.5 1132.2Z"/>
<path fill="#0044a4" d="M1649.3 1047.2L1684 1047.5L1652.2 1091.9L1617.6 1091.2Z"/>
<path fill="#006973" d="M1715.6 1001.6L1750.7 1001L1719 1047.3L1684 1047.5Z"/>
<path fill="#008f40" d="M1782.3 953.2L1817.7 951.8L1786.1 999.9L1750.7 1001Z"/>
<path fill="#00b809" d="M1849.3 902.2L1885.2 899.9L1853.6 949.9L1817.7 951.8Z"/>
<path fill="#30cb00" d="M1916.6 848.6L1953 845.5L1921.4 897.2L1885.2 899.9Z"/>
<path fill="#6cda00" d="M1984.4 792.5L2021.2 788.6L1989.6 841.9L1953 845.5Z"/>
<path fill="#a9e900" d="M2052.6 734.1L2089.8 729.4L2058.3 784.3L2021.2 788.6Z"/>
<path fill="#e9f900" d="M2121.2 673.5L2158.9 668.1L2127.4 724.3L2089.8 729.4Z"/>
<path fill="#ffe900" d="M2190.3 610.9L2228.5 604.8L2197 662.2L2158.9 668.1Z"/>
<path fill="#ffc800" d="M2259.9 546.5L2298.5 539.8L2267 598.3L2228.5 604.8Z"/>
<path fill="#ffa600" d="M2329.9 480.7L2369 473.4L2337.5 532.6L2298.5 539.8Z"/>
<path fill="#0f007f" d="M511.6 1438.5L541.1 1451L505.3 1464.3L475.8 1451.7Z"/>
<path fill="#0f007f" d="M576.6 1436.3L606.3 1448.2L570.8 1463L541.1 1451Z"/>
<path fill="#0e007f" d="M641.5 1432.2L671.4 1443.5L636.3 1459.8L606.3 1448.2Z"/>
<path fill="#0c007f" d="M706.2 1425.9L736.5 1436.8L701.6 1454.5L671.4 1443.5Z"/>
<path fill="#0a007f" d="M771 1417.7L801.5 1427.9L766.9 1447.2L736.5 1436.8Z"/>
<path fill="#07007f" d="M835.7 1407.2L866.4 1416.9L832.2 1437.7L801.5 1427.9Z"/>
<path fill="#04007f" d="M900.4 1394.6L931.4 1403.6L897.4 1426.1L866.4 1416.9Z"/>
<path fill="#000080" d="M965.1 1379.6L996.4 1388L962.7 1412.1L931.4 1403.6Z"/>
<path fill="#000089" d="M1029.8 1362.4L1061.4 1370L1027.9 1395.9L996.4 1388Z"/>
<path fill="#000093" d="M1094.6 1342.7L1126.5 1349.6L1093.2 1377.2L1061.4 1370Z"/>
<path fill="#00009f" d="M1159.4 1320.5L1191.6 1326.7L1158.6 1356.1L1126.5 1349.6Z"/>
<path fill="#0000ad" d="M1224.4 1295.8L1256.9 1301.3L1224.1 1332.5L1191.6 1326.7Z"/>
<path fill="#0000bb" d="M1289.5 1268.5L1322.3 1273.2L1289.7 1306.3L1256.9 1301.3Z"/>
<path fill="#0000cc" d="M1354.7 1238.5L1387.8 1242.4L1355.4 1277.4L1322.3 1273.2Z"/>
<path fill="#0000dd" d="M1420.1 1205.8L1453.6 1208.9L1421.3 1245.8L1387.8 1242.4Z"/>
<path fill="#0000f0" d="M1485.7 1170.4L1519.5 1172.7L1487.4 1211.5L1453.6 1208.9Z"/>
<path fill="#0009f3" d="M1551.5 1132.2L1585.8 1133.7L1553.7 1174.5L1519.5 1172.7Z"/>
<path fill="#002ac7" d="M1617.6 1091.2L1652.2 1091.9L1620.3 1134.6L1585.8 1133.7Z"/>
<path fill="#004d98" d="M1684 1047.5L1719 1047.3L1687.2 1092L1652.2 1091.9Z"/>
<path fill="#007366" d="M1750.7 1001L1786.1 999.9L1754.4 1046.5L1719 1047.3Z"/>
<path fill="#009a32" d="M1817.7 951.8L1853.6 949.9L1821.9 998.3L1786.1 999.9Z"/>
<path fill="#06c000" d="M1885.2 899.9L1921.4 897.2L1889.7 947.4L1853.6 949.9Z"/>
<path fill="#3fcf00" d="M1953 845.5L1989.6 841.9L1958 893.9L1921.4 897.2Z"/>
<path fill="#7bde00" d="M2021.2 788.6L2058.3 784.3L2026.7 837.9L1989.6 841.9Z"/>
<path fill="#b9ee00" d="M2089.8 729.4L2127.4 724.3L2095.8 779.4L2058.3 784.3Z"/>
<path fill="#fafe00" d="M2158.9 668.1L2197 662.2L2165.4 718.7L2127.4 724.3Z"/>
<path fill="#ffe100" d="M2228.5 604.8L2267 598.3L2235.4 655.9L2197 662.2Z"/>
<path fill="#ffbf00" d="M2298.5 539.8L2337.5 532.6L2306 591.2L2267 598.3Z"/>
<path fill="#ff9d00" d="M2369 473.4L2408.5 465.7L2377 525L2337.5 532.6Z"/>
<path fill="#0f007f" d="M475.8 1451.7L505.3 1464.3L469.1 1476.4L439.6 1463.6Z"/>
<path fill="#0f007f" d="M541.1 1451L570.8 1463L535 1476.6L505.3 1464.3Z"/>
<path fill="#0f007f" d="M606.3 1448.2L636.3 1459.8L600.8 1474.8L570.8 1463Z"/>
<path fill="#0d007f" d="M671.4 1443.5L701.6 1454.5L666.5 1471L636.3 1459.8Z"/>
<path fill="#0c007f" d="M736.5 1436.8L766.9 1447.2L732.1 1465.2L701.6 1454.5Z"/>
<path fill="#09007f" d="M801.5 1427.9L832.2 1437.7L797.6 1457.2L766.9 1447.2Z"/>
<path fill="#06007f" d="M866.4 1416.9L897.4 1426.1L863.2 1447.1L832.2 1437.7Z"/>
<path fill="#03007f" d="M931.4 1403.6L962.7 1412.1L928.7 1434.8L897.4 1426.1Z"/>
<path fill="#000082" d="M996.4 1388L1027.9 1395.9L994.2 1420.3L962.7 1412.1Z"/>
<path fill="#00008c" d="M1061.4 1370L1093.2 1377.2L1059.8 1403.3L1027.9 1395.9Z"/>
<path fill="#000097" d="M1126.5 1349.6L1158.6 1356.1L1125.4 1384L1093.2 1377.2Z"/>
<path fill="#0000a3" d="M1191.6 1326.7L1224.1 1332.5L1191 1362.2L1158.6 1356.1Z"/>
<path fill="#0000b1" d="M1256.9 1301.3L1289.7 1306.3L1256.8 1337.8L1224.1 1332.5Z"/>
<path fill="#0000c0" d="M1322.3 1273.2L1355.4 1277.4L1322.7 1310.8L1289.7 1306.3Z"/>
<path fill="#0000d0" d="M1387.8 1242.4L1421.3 1245.8L1388.8 1281.1L1355.4 1277.4Z"/>
<path fill="#0000e2" d="M1453.6 1208.9L1487.4 1211.5L1455.1 1248.7L1421.3 1245.8Z"/>
<path fill="#0000f6" d="M1519.5 1172.7L1553.7 1174.5L1521.5 1213.6L1487.4 1211.5Z"/>
<path fill="#0012e7" d="M1585.8 1133.7L1620.3 1134.6L1588.2 1175.7L1553.7 1174.5Z"/>
<path fill="#0033ba" d="M1652.2 1091.9L1687.2 1092L1655.2 1135L1620.3 1134.6Z"/>
<path fill="#00578b" d="M1719 1047.3L1754.4 1046.5L1722.5 1091.5L1687.2 1092Z"/>
<path fill="#007d58" d="M1786.1 999.9L1821.9 998.3L1790 1045.3L1754.4 1046.5Z"/>
<path fill="#00a523" d="M1853.6 949.9L1889.7 947.4L1858 996.2L1821.9 998.3Z"/>
<path fill="#15c400" d="M1921.4 897.2L1958 893.9L1926.3 944.5L1889.7 947.4Z"/>
<path fill="#4fd300" d="M1989.6 841.9L2026.7 837.9L1995 890.1L1958 893.9Z"/>
<path fill="#8be200" d="M2058.3 784.3L2095.8 779.4L2064.1 833.3L2026.7 837.9Z"/>
<path fill="#caf200" d="M2127.4 724.3L2165.4 718.7L2133.7 774L2095.8 779.4Z"/>
<path fill="#fff900" d="M2197 662.2L2235.4 655.9L2203.8 712.6L2165.4 718.7Z"/>
<path fill="#ffd800" d="M2267 598.3L2306 591.2L2274.3 649.1L2235.4 655.9Z"/>
<path fill="#ffb600" d="M2337.5 532.6L2377 525L2345.3 583.8L2306 591.2Z"/>
<path fill="#ff9400" d="M2408.5 465.7L2448.5 457.5L2416.8 517L2377 525Z"/>
<path fill="#0f007f" d="M505.3 1464.3L535 1476.6L498.8 1488.8L469.1 1476.4Z"/>
<path fill="#0f007f" d="M570.8 1463L600.8 1474.8L564.9 1488.5L535 1476.6Z"/>
<path fill="#0e007f" d="M636.3 1459.8L666.5 1471L630.9 1486.1L600.8 1474.8Z"/>
<path fill="#0d007f" d="M701.6 1454.5L732.1 1465.2L696.9 1481.8L666.5 1471Z"/>
<path fill="#0b007f" d="M766.9 1447.2L797.6 1457.2L762.7 1475.4L732.1 1465.2Z"/>
<path fill="#08007f" d="M832.2 1437.7L863.2 1447.1L828.6 1466.8L797.6 1457.2Z"/>
<path fill="#05007f" d="M897.4 1426.1L928.7 1434.8L894.4 1456.1L863.2 1447.1Z"/>
<path fill="#01007f" d="M962.7 1412.1L994.2 1420.3L960.2 1443.2L928.7 1434.8Z"/>
<path fill="#000085" d="M1027.9 1395.9L1059.8 1403.3L1026 1427.9L994.2 1420.3Z"/>
<path fill="#00008f" d="M1093.2 1377.2L1125.4 1384L1091.8 1410.3L1059.8 1403.3Z"/>
<path fill="#00009a" d="M1158.6 1356.1L1191 1362.2L1157.8 1390.2L1125.4 1384Z"/>
<path fill="#0000a7" d="M1224.1 1332.5L1256.8 1337.8L1223.8 1367.7L1191 1362.2Z"/>
<path fill="#0000b5" d="M1289.7 1306.3L1322.7 1310.8L1289.9 1342.5L1256.8 1337.8Z"/>
<path fill="#0000c5" d="M1355.4 1277.4L1388.8 1281.1L1356.1 1314.8L1322.7 1310.8Z"/>
<path fill="#0000d5" d="M1421.3 1245.8L1455.1 1248.7L1422.5 1284.3L1388.8 1281.1Z"/>
<path fill="#0000e8" d="M1487.4 1211.5L1521.5 1213.6L1489.2 1251.1L1455.1 1248.7Z"/>
<path fill="#0000fc" d="M1553.7 1174.5L1588.2 1175.7L1556 1215.2L1521.5 1213.6Z"/>
<path fill="#001bdb" d="M1620.3 1134.6L1655.2 1135L1623.1 1176.5L1588.2 1175.7Z"/>
<path fill="#003dad" d="M1687.2 1092L1722.5 1091.5L1690.4 1134.9L1655.2 1135Z"/>
<path fill="#00617d" d="M1754.4 1046.5L1790 1045.3L1758.1 1090.6L1722.5 1091.5Z"/>
<path fill="#00884a" d="M1821.9 998.3L1858 996.2L1826.1 1043.5L1790 1045.3Z"/>
<path fill="#00b014" d="M1889.7 947.4L1926.3 944.5L1894.5 993.6L1858 996.2Z"/>
<path fill="#24c800" d="M1958 893.9L1995 890.1L1963.2 941L1926.3 944.5Z"/>
<path fill="#5fd700" d="M2026.7 837.9L2064.1 833.3L2032.4 885.9L1995 890.1Z"/>
<path fill="#9ce600" d="M2095.8 779.4L2133.7 774L2102 828.2L2064.1 833.3Z"/>
<path fill="#dbf600" d="M2165.4 718.7L2203.8 712.6L2172 768.2L2133.7 774Z"/>
<path fill="#fff000" d="M2235.4 655.9L2274.3 649.1L2242.6 706L2203.8 712.6Z"/>
<path fill="#ffcf00" d="M2306 591.2L2345.3 583.8L2313.6 641.8L2274.3 649.1Z"/>
<path fill="#ffad00" d="M2377 525L2416.8 517L2385.1 575.8L2345.3 583.8Z"/>
<path fill="#0e007f" d="M535 1476.6L564.9 1488.5L528.7 1500.9L498.8 1488.8Z"/>
<path fill="#0e007f" d="M600.8 1474.8L630.9 1486.1L595 1500L564.9 1488.5Z"/>
<path fill="#0d007f" d="M666.5 1471L696.9 1481.8L661.3 1497.1L630.9 1486.1Z"/>
<path fill="#0c007f" d="M732.1 1465.2L762.7 1475.4L727.5 1492.2L696.9 1481.8Z"/>
<path fill="#0a007f" d="M797.6 1457.2L828.6 1466.8L793.7 1485.2L762.7 1475.4Z"/>
<path fill="#07007f" d="M863.2 1447.1L894.4 1456.1L859.8 1476L828.6 1466.8Z"/>
<path fill="#04007f" d="M928.7 1434.8L960.2 1443.2L925.9 1464.6L894.4 1456.1Z"/>
<path fill="#00007f" d="M994.2 1420.3L1026 1427.9L991.9 1451L960.2 1443.2Z"/>
<path fill="#000088" d="M1059.8 1403.3L1091.8 1410.3L1058.1 1435.1L1026 1427.9Z"/>
<path fill="#000093" d="M1125.4 1384L1157.8 1390.2L1124.2 1416.8L1091.8 1410.3Z"/>
<path fill="#00009e" d="M1191 1362.2L1223.8 1367.7L1190.4 1396L1157.8 1390.2Z"/>
<path fill="#0000ab" d="M1256.8 1337.8L1289.9 1342.5L1256.8 1372.7L1223.8 1367.7Z"/>
<path fill="#0000ba" d="M1322.7 1310.8L1356.1 1314.8L1323.2 1346.8L1289.9 1342.5Z"/>
<path fill="#0000ca" d="M1388.8 1281.1L1422.5 1284.3L1389.8 1318.2L1356.1 1314.8Z"/>
<path fill="#0000db" d="M1455.1 1248.7L1489.2 1251.1L1456.6 1287L1422.5 1284.3Z"/>
<path fill="#0000ee" d="M1521.5 1213.6L1556 1215.2L1523.6 1253L1489.2 1251.1Z"/>
<path fill="#0004f9" d="M1588.2 1175.7L1623.1 1176.5L1590.8 1216.2L1556 1215.2Z"/>
<path fill="#0025ce" d="M1655.2 1135L1690.4 1134.9L1658.2 1176.7L1623.1 1176.5Z"/>
<path fill="#0047a0" d="M1722.5 1091.5L1758.1 1090.6L1726 1134.3L1690.4 1134.9Z"/>
<path fill="#006c6f" d="M1790 1045.3L1826.1 1043.5L1794.1 1089.1L1758.1 1090.6Z"/>
<path fill="#00933b" d="M1858 996.2L1894.5 993.6L1862.5 1041.1L1826.1 1043.5Z"/>
<path fill="#00bc05" d="M1926.3 944.5L1963.2 941L1931.3 990.4L1894.5 993.6Z"/>
<path fill="#34cc00" d="M1995 890.1L2032.4 885.9L2000.5 937L1963.2 941Z"/>
<path fill="#70db00" d="M2064.1 833.3L2102 828.2L2070.1 881L2032.4 885.9Z"/>
<path fill="#adeb00" d="M2133.7 774L2172 768.2L2140.2 822.6L2102 828.2Z"/>
<path fill="#edfa00" d="M2203.8 712.6L2242.6 706L2210.8 761.8L2172 768.2Z"/>
<path fill="#ffe700" d="M2274.3 649.1L2313.6 641.8L2281.8 698.9L2242.6 706Z"/>
<path fill="#ffc600" d="M2345.3 583.8L2385.1 575.8L2353.3 634L2313.6 641.8Z"/>
<path fill="#0e007f" d="M564.9 1488.5L595 1500L558.8 1512.6L528.7 1500.9Z"/>
<path fill="#0e007f" d="M630.9 1486.1L661.3 1497.1L625.4 1511.2L595 1500Z"/>
<path fill="#0d007f" d="M696.9 1481.8L727.5 1492.2L692 1507.7L661.3 1497.1Z"/>
<path fill="#0b007f" d="M762.7 1475.4L793.7 1485.2L758.4 1502.1L727.5 1492.2Z"/>
<path fill="#09007f" d="M828.6 1466.8L859.8 1476L824.8 1494.5L793.7 1485.2Z"/>
<path fill="#06007f" d="M894.4 1456.1L925.9 1464.6L891.2 1484.7L859.8 1476Z"/>
<path fill="#02007f" d="M960.2 1443.2L991.9 1451L957.6 1472.7L925.9 1464.6Z"/>
<path fill="#000083" d="M1026 1427.9L1058.1 1435.1L1024 1458.4L991.9 1451Z"/>
<path fill="#00008c" d="M1091.8 1410.3L1124.2 1416.8L1090.4 1441.8L1058.1 1435.1Z"/>
<path fill="#000096" d="M1157.8 1390.2L1190.4 1396L1156.9 1422.8L1124.2 1416.8Z"/>
<path fill="#0000a2" d="M1223.8 1367.7L1256.8 1372.7L1223.4 1401.2L1190.4 1396Z"/>
<path fill="#0000b0" d="M1289.9 1342.5L1323.2 1346.8L1290.1 1377.2L1256.8 1372.7Z"/>
<path fill="#0000bf" d="M1356.1 1314.8L1389.8 1318.2L1356.9 1350.5L1323.2 1346.8Z"/>
<path fill="#0000cf" d="M1422.5 1284.3L1456.6 1287L1423.8 1321.2L1389.8 1318.2Z"/>
<path fill="#0000e1" d="M1489.2 1251.1L1523.6 1253L1490.9 1289.1L1456.6 1287Z"/>
<path fill="#0000f4" d="M1556 1215.2L1590.8 1216.2L1558.3 1254.3L1523.6 1253Z"/>
<path fill="#000eec" d="M1623.1 1176.5L1658.2 1176.7L1625.9 1216.7L1590.8 1216.2Z"/>
<path fill="#002fc0" d="M1690.4 1134.9L1726 1134.3L1693.8 1176.3L1658.2 1176.7Z"/>
<path fill="#005292" d="M1758.1 1090.6L1794.1 1089.1L1761.9 1133.1L1726 1134.3Z"/>
<path fill="#007760" d="M1826.1 1043.5L1862.5 1041.1L1830.4 1087.1L1794.1 1089.1Z"/>
<path fill="#009e2c" d="M1894.5 993.6L1931.3 990.4L1899.3 1038.3L1862.5 1041.1Z"/>
<path fill="#0bc200" d="M1963.2 941L2000.5 937L1968.5 986.7L1931.3 990.4Z"/>
<path fill="#45d000" d="M2032.4 885.9L2070.1 881L2038.2 932.5L2000.5 937Z"/>
<path fill="#81df00" d="M2102 828.2L2140.2 822.6L2108.3 875.7L2070.1 881Z"/>
<path fill="#bfef00" d="M2172 768.2L2210.8 761.8L2178.9 816.5L2140.2 822.6Z"/>
<path fill="#ffff00" d="M2242.6 706L2281.8 698.9L2249.9 754.9L2210.8 761.8Z"/>
<path fill="#ffde00" d="M2313.6 641.8L2353.3 634L2321.4 691.3L2281.8 698.9Z"/>
<path fill="#0d007f" d="M595 1500L625.4 1511.2L589.1 1524L558.8 1512.6Z"/>
<path fill="#0d007f" d="M661.3 1497.1L692 1507.7L656 1521.9L625.4 1511.2Z"/>
<path fill="#0c007f" d="M727.5 1492.2L758.4 1502.1L722.8 1517.8L692 1507.7Z"/>
<path fill="#0a007f" d="M793.7 1485.2L824.8 1494.5L789.6 1511.7L758.4 1502.1Z"/>
<path fill="#07007f" d="M859.8 1476L891.2 1484.7L856.3 1503.4L824.8 1494.5Z"/>
<path fill="#04007f" d="M925.9 1464.6L957.6 1472.7L922.9 1493L891.2 1484.7Z"/>
<path fill="#01007f" d="M991.9 1451L1024 1458.4L989.6 1480.3L957.6 1472.7Z"/>
<path fill="#000086" d="M1058.1 1435.1L1090.4 1441.8L1056.3 1465.3L1024 1458.4Z"/>
<path fill="#000090" d="M1124.2 1416.8L1156.9 1422.8L1123 1448L1090.4 1441.8Z"/>
<path fill="#00009b" d="M1190.4 1396L1223.4 1401.2L1189.8 1428.2L1156.9 1422.8Z"/>
<path fill="#0000a7" d="M1256.8 1372.7L1290.1 1377.2L1256.7 1406L1223.4 1401.2Z"/>
<path fill="#0000b5" d="M1323.2 1346.8L1356.9 1350.5L1323.7 1381.2L1290.1 1377.2Z"/>
<path fill="#0000c4" d="M1389.8 1318.2L1423.8 1321.2L1390.8 1353.7L1356.9 1350.5Z"/>
<path fill="#0000d4" d="M1456.6 1287L1490.9 1289.1L1458.1 1323.6L1423.8 1321.2Z"/>
<path fill="#0000e7" d="M1523.6 1253L1558.3 1254.3L1525.6 1290.7L1490.9 1289.1Z"/>
<path fill="#0000fa" d="M1590.8 1216.2L1625.9 1216.7L1593.4 1255.1L1558.3 1254.3Z"/>
<path fill="#0018df" d="M1658.2 1176.7L1693.8 1176.3L1661.4 1216.7L1625.9 1216.7Z"/>
<path fill="#0039b2" d="M1726 1134.3L1761.9 1133.1L1729.6 1175.4L1693.8 1176.3Z"/>
<path fill="#005d83" d="M1794.1 1089.1L1830.4 1087.1L1798.2 1131.4L1761.9 1133.1Z"/>
<path fill="#008351" d="M1862.5 1041.1L1899.3 1038.3L1867.1 1084.5L1830.4 1087.1Z"/>
<path fill="#00aa1c" d="M1931.3 990.4L1968.5 986.7L1936.5 1034.8L1899.3 1038.3Z"/>
<path fill="#1cc600" d="M2000.5 937L2038.2 932.5L2006.2 982.5L1968.5 986.7Z"/>
<path fill="#56d500" d="M2070.1 881L2108.3 875.7L2076.3 927.4L2038.2 932.5Z"/>
<path fill="#93e400" d="M2140.2 822.6L2178.9 816.5L2146.9 869.8L2108.3 875.7Z"/>
<path fill="#d1f400" d="M2210.8 761.8L2249.9 754.9L2217.9 809.8L2178.9 816.5Z"/>
<path fill="#fff600" d="M2281.8 698.9L2321.4 691.3L2289.4 747.5L2249.9 754.9Z"/>
<path fill="#0d007f" d="M625.4 1511.2L656 1521.9L619.7 1534.9L589.1 1524Z"/>
<path fill="#0c007f" d="M692 1507.7L722.8 1517.8L686.9 1532.3L656 1521.9Z"/>
<path fill="#0b007f" d="M758.4 1502.1L789.6 1511.7L754 1527.5L722.8 1517.8Z"/>
<path fill="#09007f" d="M824.8 1494.5L856.3 1503.4L821 1520.7L789.6 1511.7Z"/>
<path fill="#06007f" d="M891.2 1484.7L922.9 1493L888 1511.8L856.3 1503.4Z"/>
<path fill="#03007f" d="M957.6 1472.7L989.6 1480.3L954.9 1500.7L922.9 1493Z"/>
<path fill="#000081" d="M1024 1458.4L1056.3 1465.3L1021.9 1487.4L989.6 1480.3Z"/>
<path fill="#00008a" d="M1090.4 1441.8L1123 1448L1088.9 1471.7L1056.3 1465.3Z"/>
<path fill="#000094" d="M1156.9 1422.8L1189.8 1428.2L1155.9 1453.7L1123 1448Z"/>
<path fill="#00009f" d="M1223.4 1401.2L1256.7 1406L1223 1433.2L1189.8 1428.2Z"/>
<path fill="#0000ac" d="M1290.1 1377.2L1323.7 1381.2L1290.2 1410.2L1256.7 1406Z"/>
<path fill="#0000ba" d="M1356.9 1350.5L1390.8 1353.7L1357.6 1384.6L1323.7 1381.2Z"/>
<path fill="#0000c9" d="M1423.8 1321.2L1458.1 1323.6L1425.1 1356.4L1390.8 1353.7Z"/>
<path fill="#0000da" d="M1490.9 1289.1L1525.6 1290.7L1492.8 1325.4L1458.1 1323.6Z"/>
<path fill="#0000ed" d="M1558.3 1254.3L1593.4 1255.1L1560.7 1291.8L1525.6 1290.7Z"/>
<path fill="#0003fc" d="M1625.9 1216.7L1661.4 1216.7L1628.8 1255.3L1593.4 1255.1Z"/>
<path fill="#0022d1" d="M1693.8 1176.3L1729.6 1175.4L1697.2 1216.1L1661.4 1216.7Z"/>
<path fill="#0044a4" d="M1761.9 1133.1L1798.2 1131.4L1765.9 1174L1729.6 1175.4Z"/>
<path fill="#006874" d="M1830.4 1087.1L1867.1 1084.5L1834.9 1129.1L1798.2 1131.4Z"/>
<path fill="#008f41" d="M1899.3 1038.3L1936.5 1034.8L1904.2 1081.4L1867.1 1084.5Z"/>
<path fill="#00b70b" d="M1968.5 986.7L2006.2 982.5L1974 1030.9L1936.5 1034.8Z"/>
<path fill="#2dca00" d="M2038.2 932.5L2076.3 927.4L2044.2 977.6L2006.2 982.5Z"/>
<path fill="#68d900" d="M2108.3 875.7L2146.9 869.8L2114.8 921.8L2076.3 927.4Z"/>
<path fill="#a5e800" d="M2178.9 816.5L2217.9 809.8L2185.8 863.4L2146.9 869.8Z"/>
<path fill="#e4f800" d="M2249.9 754.9L2289.4 747.5L2257.4 802.6L2217.9 809.8Z"/>
<path fill="#0c007f" d="M656 1521.9L686.9 1532.3L650.6 1545.5L619.7 1534.9Z"/>
<path fill="#0b007f" d="M722.8 1517.8L754 1527.5L718 1542.1L686.9 1532.3Z"/>
<path fill="#09007f" d="M789.6 1511.7L821 1520.7L785.3 1536.8L754 1527.5Z"/>
<path fill="#07007f" d="M856.3 1503.4L888 1511.8L852.6 1529.4L821 1520.7Z"/>
<path fill="#04007f" d="M922.9 1493L954.9 1500.7L919.9 1519.8L888 1511.8Z"/>
<path fill="#01007f" d="M989.6 1480.3L1021.9 1487.4L987.2 1508L954.9 1500.7Z"/>
<path fill="#000085" d="M1056.3 1465.3L1088.9 1471.7L1054.4 1494L1021.9 1487.4Z"/>
<path fill="#00008e" d="M1123 1448L1155.9 1453.7L1121.7 1477.6L1088.9 1471.7Z"/>
<path fill="#000098" d="M1189.8 1428.2L1223 1433.2L1189.1 1458.8L1155.9 1453.7Z"/>
<path fill="#0000a4" d="M1256.7 1406L1290.2 1410.2L1256.6 1437.6L1223 1433.2Z"/>
<path fill="#0000b1" d="M1323.7 1381.2L1357.6 1384.6L1324.1 1413.8L1290.2 1410.2Z"/>
<path fill="#0000bf" d="M1390.8 1353.7L1425.1 1356.4L1391.8 1387.5L1357.6 1384.6Z"/>
<path fill="#0000cf" d="M1458.1 1323.6L1492.8 1325.4L1459.7 1358.5L1425.1 1356.4Z"/>
<path fill="#0000e1" d="M1525.6 1290.7L1560.7 1291.8L1527.7 1326.7L1492.8 1325.4Z"/>
<path fill="#0000f3" d="M1593.4 1255.1L1628.8 1255.3L1596 1292.3L1560.7 1291.8Z"/>
<path fill="#000dee" d="M1661.4 1216.7L1697.2 1216.1L1664.5 1255L1628.8 1255.3Z"/>
<path fill="#002dc3" d="M1729.6 1175.4L1765.9 1174L1733.3 1214.9L1697.2 1216.1Z"/>
<path fill="#005095" d="M1798.2 1131.4L1834.9 1129.1L1802.5 1172L1765.9 1174Z"/>
<path fill="#007464" d="M1867.1 1084.5L1904.2 1081.4L1871.9 1126.2L1834.9 1129.1Z"/>
<path fill="#009b30" d="M1936.5 1034.8L1974 1030.9L1941.7 1077.7L1904.2 1081.4Z"/>
<path fill="#06c100" d="M2006.2 982.5L2044.2 977.6L2012 1026.3L1974 1030.9Z"/>
<path fill="#3fcf00" d="M2076.3 927.4L2114.8 921.8L2082.6 972.3L2044.2 977.6Z"/>
<path fill="#7ade00" d="M2146.9 869.8L2185.8 863.4L2153.7 915.6L2114.8 921.8Z"/>
<path fill="#b7ed00" d="M2217.9 809.8L2257.4 802.6L2225.3 856.5L2185.8 863.4Z"/>
<path fill="#0b007f" d="M686.9 1532.3L718 1542.1L681.7 1555.5L650.6 1545.5Z"/>
<path fill="#0a007f" d="M754 1527.5L785.3 1536.8L749.4 1551.6L718 1542.1Z"/>
<path fill="#08007f" d="M821 1520.7L852.6 1529.4L817 1545.6L785.3 1536.8Z"/>
<path fill="#06007f" d="M888 1511.8L919.9 1519.8L884.6 1537.5L852.6 1529.4Z"/>
<path fill="#03007f" d="M954.9 1500.7L987.2 1508L952.1 1527.2L919.9 1519.8Z"/>
<path fill="#000081" d="M1021.9 1487.4L1054.4 1494L1019.7 1514.8L987.2 1508Z"/>
<path fill="#000089" d="M1088.9 1471.7L1121.7 1477.6L1087.3 1500L1054.4 1494Z"/>
<path fill="#000092" d="M1155.9 1453.7L1189.1 1458.8L1154.9 1482.9L1121.7 1477.6Z"/>
<path fill="#00009d" d="M1223 1433.2L1256.6 1437.6L1222.6 1463.4L1189.1 1458.8Z"/>
<path fill="#0000a9" d="M1290.2 1410.2L1324.1 1413.8L1290.4 1441.4L1256.6 1437.6Z"/>
<path fill="#0000b6" d="M1357.6 1384.6L1391.8 1387.5L1358.3 1416.9L1324.1 1413.8Z"/>
<path fill="#0000c5" d="M1425.1 1356.4L1459.7 1358.5L1426.4 1389.8L1391.8 1387.5Z"/>
<path fill="#0000d6" d="M1492.8 1325.4L1527.7 1326.7L1494.6 1360L1459.7 1358.5Z"/>
<path fill="#0000e7" d="M1560.7 1291.8L1596 1292.3L1563.1 1327.4L1527.7 1326.7Z"/>
<path fill="#0000fa" d="M1628.8 1255.3L1664.5 1255L1631.7 1292.1L1596 1292.3Z"/>
<path fill="#0018df" d="M1697.2 1216.1L1733.3 1214.9L1700.7 1254L1664.5 1255Z"/>
<path fill="#0039b3" d="M1765.9 1174L1802.5 1172L1769.9 1213.1L1733.3 1214.9Z"/>
<path fill="#005c85" d="M1834.9 1129.1L1871.9 1126.2L1839.4 1169.4L1802.5 1172Z"/>
<path fill="#008153" d="M1904.2 1081.4L1941.7 1077.7L1909.3 1122.8L1871.9 1126.2Z"/>
<path fill="#00a81f" d="M1974 1030.9L2012 1026.3L1979.6 1073.4L1941.7 1077.7Z"/>
<path fill="#18c500" d="M2044.2 977.6L2082.6 972.3L2050.3 1021.2L2012 1026.3Z"/>
<path fill="#51d300" d="M2114.8 921.8L2153.7 915.6L2121.4 966.4L2082.6 972.3Z"/>
<path fill="#8de200" d="M2185.8 863.4L2225.3 856.5L2193 908.9L2153.7 915.6Z"/>
<path fill="#09007f" d="M718 1542.1L749.4 1551.6L713 1565.2L681.7 1555.5Z"/>
<path fill="#08007f" d="M785.3 1536.8L817 1545.6L781 1560.6L749.4 1551.6Z"/>
<path fill="#06007f" d="M852.6 1529.4L884.6 1537.5L848.9 1553.9L817 1545.6Z"/>
<path fill="#04007f" d="M919.9 1519.8L952.1 1527.2L916.8 1545.1L884.6 1537.5Z"/>
<path fill="#01007f" d="M987.2 1508L1019.7 1514.8L984.7 1534.1L952.1 1527.2Z"/>
<path fill="#000085" d="M1054.4 1494L1087.3 1500L1052.5 1521L1019.7 1514.8Z"/>
<path fill="#00008d" d="M1121.7 1477.6L1154.9 1482.9L1120.4 1505.5L1087.3 1500Z"/>
<path fill="#000097" d="M1189.1 1458.8L1222.6 1463.4L1188.4 1487.7L1154.9 1482.9Z"/>
<path fill="#0000a2" d="M1256.6 1437.6L1290.4 1441.4L1256.4 1467.5L1222.6 1463.4Z"/>
<path fill="#0000ae" d="M1324.1 1413.8L1358.3 1416.9L1324.6 1444.7L1290.4 1441.4Z"/>
<path fill="#0000bc" d="M1391.8 1387.5L1426.4 1389.8L1392.9 1419.4L1358.3 1416.9Z"/>
<path fill="#0000cb" d="M1459.7 1358.5L1494.6 1360L1461.3 1391.5L1426.4 1389.8Z"/>
<path fill="#0000dc" d="M1527.7 1326.7L1563.1 1327.4L1529.9 1360.9L1494.6 1360Z"/>
<path fill="#0000ee" d="M1596 1292.3L1631.7 1292.1L1598.7 1327.6L1563.1 1327.4Z"/>
<path fill="#0004fa" d="M1664.5 1255L1700.7 1254L1667.8 1291.4L1631.7 1292.1Z"/>
<path fill="#0023d0" d="M1733.3 1214.9L1769.9 1213.1L1737.2 1252.5L1700.7 1254Z"/>
<path fill="#0044a4" d="M1802.5 1172L1839.4 1169.4L1806.8 1210.8L1769.9 1213.1Z"/>
<path fill="#006874" d="M1871.9 1126.2L1909.3 1122.8L1876.8 1166.2L1839.4 1169.4Z"/>
<path fill="#008d42" d="M1941.7 1077.7L1979.6 1073.4L1947.2 1118.7L1909.3 1122.8Z"/>
<path fill="#00b50e" d="M2012 1026.3L2050.3 1021.2L2017.9 1068.5L1979.6 1073.4Z"/>
<path fill="#2aca00" d="M2082.6 972.3L2121.4 966.4L2089.1 1015.5L2050.3 1021.2Z"/>
<path fill="#64d800" d="M2153.7 915.6L2193 908.9L2160.7 959.9L2121.4 966.4Z"/>
<path fill="#08007f" d="M749.4 1551.6L781 1560.6L744.6 1574.3L713 1565.2Z"/>
<path fill="#07007f" d="M817 1545.6L848.9 1553.9L812.9 1569L781 1560.6Z"/>
<path fill="#05007f" d="M884.6 1537.5L916.8 1545.1L881.1 1561.7L848.9 1553.9Z"/>
<path fill="#02007f" d="M952.1 1527.2L984.7 1534.1L949.3 1552.2L916.8 1545.1Z"/>
<path fill="#000082" d="M1019.7 1514.8L1052.5 1521L1017.5 1540.5L984.7 1534.1Z"/>
<path fill="#000089" d="M1087.3 1500L1120.4 1505.5L1085.6 1526.7L1052.5 1521Z"/>
<path fill="#000092" d="M1154.9 1482.9L1188.4 1487.7L1153.9 1510.5L1120.4 1505.5Z"/>
<path fill="#00009c" d="M1222.6 1463.4L1256.4 1467.5L1222.2 1491.9L1188.4 1487.7Z"/>
<path fill="#0000a8" d="M1290.4 1441.4L1324.6 1444.7L1290.6 1470.9L1256.4 1467.5Z"/>
<path fill="#0000b4" d="M1358.3 1416.9L1392.9 1419.4L1359.1 1447.4L1324.6 1444.7Z"/>
<path fill="#0000c2" d="M1426.4 1389.8L1461.3 1391.5L1427.7 1421.4L1392.9 1419.4Z"/>
<path fill="#0000d2" d="M1494.6 1360L1529.9 1360.9L1496.5 1392.6L1461.3 1391.5Z"/>
<path fill="#0000e3" d="M1563.1 1327.4L1598.7 1327.6L1565.5 1361.2L1529.9 1360.9Z"/>
<path fill="#0000f5" d="M1631.7 1292.1L1667.8 1291.4L1634.8 1327.1L1598.7 1327.6Z"/>
<path fill="#000feb" d="M1700.7 1254L1737.2 1252.5L1704.3 1290.1L1667.8 1291.4Z"/>
<path fill="#002fc1" d="M1769.9 1213.1L1806.8 1210.8L1774 1250.4L1737.2 1252.5Z"/>
<path fill="#005193" d="M1839.4 1169.4L1876.8 1166.2L1844.1 1207.8L1806.8 1210.8Z"/>
<path fill="#007563" d="M1909.3 1122.8L1947.2 1118.7L1914.6 1162.4L1876.8 1166.2Z"/>
<path fill="#009b31" d="M1979.6 1073.4L2017.9 1068.5L1985.4 1114.1L1947.2 1118.7Z"/>
<path fill="#05c000" d="M2050.3 1021.2L2089.1 1015.5L2056.6 1063L2017.9 1068.5Z"/>
<path fill="#3dce00" d="M2121.4 966.4L2160.7 959.9L2128.3 1009.2L2089.1 1015.5Z"/>
<path fill="#07007f" d="M781 1560.6L812.9 1569L776.5 1583L744.6 1574.3Z"/>
<path fill="#05007f" d="M848.9 1553.9L881.1 1561.7L845 1577L812.9 1569Z"/>
<path fill="#03007f" d="M916.8 1545.1L949.3 1552.2L913.6 1568.9L881.1 1561.7Z"/>
<path fill="#00007f" d="M984.7 1534.1L1017.5 1540.5L982 1558.7L949.3 1552.2Z"/>
<path fill="#000086" d="M1052.5 1521L1085.6 1526.7L1050.5 1546.4L1017.5 1540.5Z"/>
<path fill="#00008e" d="M1120.4 1505.5L1153.9 1510.5L1119.1 1531.8L1085.6 1526.7Z"/>
<path fill="#000097" d="M1188.4 1487.7L1222.2 1491.9L1187.6 1514.9L1153.9 1510.5Z"/>
<path fill="#0000a2" d="M1256.4 1467.5L1290.6 1470.9L1256.3 1495.6L1222.2 1491.9Z"/>
<path fill="#0000ad" d="M1324.6 1444.7L1359.1 1447.4L1325 1473.8L1290.6 1470.9Z"/>
<path fill="#0000ba" d="M1392.9 1419.4L1427.7 1421.4L1393.9 1449.5L1359.1 1447.4Z"/>
<path fill="#0000c9" d="M1461.3 1391.5L1496.5 1392.6L1462.9 1422.7L1427.7 1421.4Z"/>
<path fill="#0000d9" d="M1529.9 1360.9L1565.5 1361.2L1532.1 1393.2L1496.5 1392.6Z"/>
<path fill="#0000ea" d="M1598.7 1327.6L1634.8 1327.1L1601.5 1361L1565.5 1361.2Z"/>
<path fill="#0000fd" d="M1667.8 1291.4L1704.3 1290.1L1671.2 1326L1634.8 1327.1Z"/>
<path fill="#001bdb" d="M1737.2 1252.5L1774 1250.4L1741.1 1288.2L1704.3 1290.1Z"/>
<path fill="#003bb0" d="M1806.8 1210.8L1844.1 1207.8L1811.3 1247.6L1774 1250.4Z"/>
<path fill="#005d82" d="M1876.8 1166.2L1914.6 1162.4L1881.9 1204.2L1844.1 1207.8Z"/>
<path fill="#008252" d="M1947.2 1118.7L1985.4 1114.1L1952.8 1157.9L1914.6 1162.4Z"/>
<path fill="#00a81f" d="M2017.9 1068.5L2056.6 1063L2024.1 1108.8L1985.4 1114.1Z"/>
<path fill="#17c500" d="M2089.1 1015.5L2128.3 1009.2L2095.8 1057L2056.6 1063Z"/>
<path fill="#05007f" d="M812.9 1569L845 1577L808.6 1591.1L776.5 1583Z"/>
<path fill="#03007f" d="M881.1 1561.7L913.6 1568.9L877.5 1584.4L845 1577Z"/>
<path fill="#01007f" d="M949.3 1552.2L982 1558.7L946.3 1575.6L913.6 1568.9Z"/>
<path fill="#000084" d="M1017.5 1540.5L1050.5 1546.4L1015.1 1564.7L982 1558.7Z"/>
<path fill="#00008b" d="M1085.6 1526.7L1119.1 1531.8L1083.9 1551.6L1050.5 1546.4Z"/>
<path fill="#000093" d="M1153.9 1510.5L1187.6 1514.9L1152.8 1536.3L1119.1 1531.8Z"/>
<path fill="#00009c" d="M1222.2 1491.9L1256.3 1495.6L1221.7 1518.6L1187.6 1514.9Z"/>
<path fill="#0000a7" d="M1290.6 1470.9L1325 1473.8L1290.7 1498.6L1256.3 1495.6Z"/>
<path fill="#0000b3" d="M1359.1 1447.4L1393.9 1449.5L1359.8 1476.1L1325 1473.8Z"/>
<path fill="#0000c1" d="M1427.7 1421.4L1462.9 1422.7L1429.1 1451L1393.9 1449.5Z"/>
<path fill="#0000d0" d="M1496.5 1392.6L1532.1 1393.2L1498.5 1423.4L1462.9 1422.7Z"/>
<path fill="#0000e0" d="M1565.5 1361.2L1601.5 1361L1568.1 1393.1L1532.1 1393.2Z"/>
<path fill="#0000f2" d="M1634.8 1327.1L1671.2 1326L1637.9 1360L1601.5 1361Z"/>
<path fill="#0008f4" d="M1704.3 1290.1L1741.1 1288.2L1708 1324.3L1671.2 1326Z"/>
<path fill="#0027cb" d="M1774 1250.4L1811.3 1247.6L1778.3 1285.7L1741.1 1288.2Z"/>
<path fill="#00489f" d="M1844.1 1207.8L1881.9 1204.2L1849 1244.3L1811.3 1247.6Z"/>
<path fill="#006a71" d="M1914.6 1162.4L1952.8 1157.9L1920 1200L1881.9 1204.2Z"/>
<path fill="#008f40" d="M1985.4 1114.1L2024.1 1108.8L1991.4 1152.9L1952.8 1157.9Z"/>
<path fill="#00b60c" d="M2056.6 1063L2095.8 1057L2063.1 1103L2024.1 1108.8Z"/>
<path fill="#03007f" d="M845 1577L877.5 1584.4L841.1 1598.7L808.6 1591.1Z"/>
<path fill="#01007f" d="M913.6 1568.9L946.3 1575.6L910.2 1591.3L877.5 1584.4Z"/>
<path fill="#000082" d="M982 1558.7L1015.1 1564.7L979.3 1581.8L946.3 1575.6Z"/>
<path fill="#000088" d="M1050.5 1546.4L1083.9 1551.6L1048.5 1570.2L1015.1 1564.7Z"/>
<path fill="#000090" d="M1119.1 1531.8L1152.8 1536.3L1117.6 1556.3L1083.9 1551.6Z"/>
<path fill="#000098" d="M1187.6 1514.9L1221.7 1518.6L1186.8 1540.2L1152.8 1536.3Z"/>
<path fill="#0000a2" d="M1256.3 1495.6L1290.7 1498.6L1256.1 1521.8L1221.7 1518.6Z"/>
<path fill="#0000ad" d="M1325 1473.8L1359.8 1476.1L1325.5 1501L1290.7 1498.6Z"/>
<path fill="#0000ba" d="M1393.9 1449.5L1429.1 1451L1395 1477.7L1359.8 1476.1Z"/>
<path fill="#0000c8" d="M1462.9 1422.7L1498.5 1423.4L1464.6 1451.9L1429.1 1451Z"/>
<path fill="#0000d7" d="M1532.1 1393.2L1568.1 1393.1L1534.4 1423.4L1498.5 1423.4Z"/>
<path fill="#0000e7" d="M1601.5 1361L1637.9 1360L1604.4 1392.3L1568.1 1393.1Z"/>
<path fill="#0000f9" d="M1671.2 1326L1708 1324.3L1674.6 1358.5L1637.9 1360Z"/>
<path fill="#0015e3" d="M1741.1 1288.2L1778.3 1285.7L1745.1 1321.9L1708 1324.3Z"/>
<path fill="#0034ba" d="M1811.3 1247.6L1849 1244.3L1815.9 1282.5L1778.3 1285.7Z"/>
<path fill="#00558e" d="M1881.9 1204.2L1920 1200L1887 1240.2L1849 1244.3Z"/>
<path fill="#00785f" d="M1952.8 1157.9L1991.4 1152.9L1958.5 1195.1L1920 1200Z"/>
<path fill="#009d2d" d="M2024.1 1108.8L2063.1 1103L2030.4 1147.2L1991.4 1152.9Z"/>
<path fill="#01007f" d="M877.5 1584.4L910.2 1591.3L873.8 1605.8L841.1 1598.7Z"/>
<path fill="#000081" d="M946.3 1575.6L979.3 1581.8L943.2 1597.6L910.2 1591.3Z"/>
<path fill="#000087" d="M1015.1 1564.7L1048.5 1570.2L1012.7 1587.4L979.3 1581.8Z"/>
<path fill="#00008d" d="M1083.9 1551.6L1117.6 1556.3L1082.2 1575L1048.5 1570.2Z"/>
<path fill="#000095" d="M1152.8 1536.3L1186.8 1540.2L1151.7 1560.4L1117.6 1556.3Z"/>
<path fill="#00009e" d="M1221.7 1518.6L1256.1 1521.8L1221.2 1543.6L1186.8 1540.2Z"/>
<path fill="#0000a8" d="M1290.7 1498.6L1325.5 1501L1290.8 1524.4L1256.1 1521.8Z"/>
<path fill="#0000b4" d="M1359.8 1476.1L1395 1477.7L1360.6 1502.8L1325.5 1501Z"/>
<path fill="#0000c1" d="M1429.1 1451L1464.6 1451.9L1430.4 1478.7L1395 1477.7Z"/>
<path fill="#0000cf" d="M1498.5 1423.4L1534.4 1423.4L1500.5 1452.1L1464.6 1451.9Z"/>
<path fill="#0000de" d="M1568.1 1393.1L1604.4 1392.3L1570.7 1422.8L1534.4 1423.4Z"/>
<path fill="#0000ef" d="M1637.9 1360L1674.6 1358.5L1641.1 1390.9L1604.4 1392.3Z"/>
<path fill="#0004fa" d="M1708 1324.3L1745.1 1321.9L1711.8 1356.3L1674.6 1358.5Z"/>
<path fill="#0021d3" d="M1778.3 1285.7L1815.9 1282.5L1782.7 1318.9L1745.1 1321.9Z"/>
<path fill="#0041a8" d="M1849 1244.3L1887 1240.2L1853.9 1278.6L1815.9 1282.5Z"/>
<path fill="#00627c" d="M1920 1200L1958.5 1195.1L1925.5 1235.6L1887 1240.2Z"/>
<path fill="#00864c" d="M1991.4 1152.9L2030.4 1147.2L1997.5 1189.6L1958.5 1195.1Z"/>
<path fill="#000081" d="M910.2 1591.3L943.2 1597.6L906.8 1612.2L873.8 1605.8Z"/>
<path fill="#000086" d="M979.3 1581.8L1012.7 1587.4L976.6 1603.3L943.2 1597.6Z"/>
<path fill="#00008c" d="M1048.5 1570.2L1082.2 1575L1046.3 1592.3L1012.7 1587.4Z"/>
<path fill="#000093" d="M1117.6 1556.3L1151.7 1560.4L1116.2 1579.2L1082.2 1575Z"/>
<path fill="#00009b" d="M1186.8 1540.2L1221.2 1543.6L1186 1563.8L1151.7 1560.4Z"/>
<path fill="#0000a4" d="M1256.1 1521.8L1290.8 1524.4L1255.9 1546.2L1221.2 1543.6Z"/>
<path fill="#0000af" d="M1325.5 1501L1360.6 1502.8L1325.9 1526.3L1290.8 1524.4Z"/>
<path fill="#0000bb" d="M1395 1477.7L1430.4 1478.7L1396 1503.9L1360.6 1502.8Z"/>
<path fill="#0000c8" d="M1464.6 1451.9L1500.5 1452.1L1466.3 1479L1430.4 1478.7Z"/>
<path fill="#0000d6" d="M1534.4 1423.4L1570.7 1422.8L1536.7 1451.6L1500.5 1452.1Z"/>
<path fill="#0000e6" d="M1604.4 1392.3L1641.1 1390.9L1607.3 1421.6L1570.7 1422.8Z"/>
<path fill="#0000f7" d="M1674.6 1358.5L1711.8 1356.3L1678.2 1388.9L1641.1 1390.9Z"/>
<path fill="#0011e9" d="M1745.1 1321.9L1782.7 1318.9L1749.3 1353.4L1711.8 1356.3Z"/>
<path fill="#002ec1" d="M1815.9 1282.5L1853.9 1278.6L1820.7 1315.2L1782.7 1318.9Z"/>
<path fill="#004e96" d="M1887 1240.2L1925.5 1235.6L1892.4 1274.1L1853.9 1278.6Z"/>
<path fill="#007169" d="M1958.5 1195.1L1997.5 1189.6L1964.4 1230.2L1925.5 1235.6Z"/>
<path fill="#000086" d="M943.2 1597.6L976.6 1603.3L940.1 1618.1L906.8 1612.2Z"/>
<path fill="#00008b" d="M1012.7 1587.4L1046.3 1592.3L1010.2 1608.4L976.6 1603.3Z"/>
<path fill="#000091" d="M1082.2 1575L1116.2 1579.2L1080.3 1596.6L1046.3 1592.3Z"/>
<path fill="#000098" d="M1151.7 1560.4L1186 1563.8L1150.5 1582.7L1116.2 1579.2Z"/>
<path fill="#0000a1" d="M1221.2 1543.6L1255.9 1546.2L1220.7 1566.6L1186 1563.8Z"/>
<path fill="#0000ab" d="M1290.8 1524.4L1325.9 1526.3L1291 1548.2L1255.9 1546.2Z"/>
<path fill="#0000b5" d="M1360.6 1502.8L1396 1503.9L1361.3 1527.5L1325.9 1526.3Z"/>
<path fill="#0000c2" d="M1430.4 1478.7L1466.3 1479L1431.8 1504.4L1396 1503.9Z"/>
<path fill="#0000cf" d="M1500.5 1452.1L1536.7 1451.6L1502.5 1478.7L1466.3 1479Z"/>
<path fill="#0000de" d="M1570.7 1422.8L1607.3 1421.6L1573.3 1450.5L1536.7 1451.6Z"/>
<path fill="#0000ee" d="M1641.1 1390.9L1678.2 1388.9L1644.4 1419.6L1607.3 1421.6Z"/>
<path fill="#0001fd" d="M1711.8 1356.3L1749.3 1353.4L1715.7 1386.1L1678.2 1388.9Z"/>
<path fill="#001ed7" d="M1782.7 1318.9L1820.7 1315.2L1787.2 1349.8L1749.3 1353.4Z"/>
<path fill="#003caf" d="M1853.9 1278.6L1892.4 1274.1L1859.1 1310.8L1820.7 1315.2Z"/>
<path fill="#005d83" d="M1925.5 1235.6L1964.4 1230.2L1931.2 1268.9L1892.4 1274.1Z"/>
<path fill="#00008b" d="M976.6 1603.3L1010.2 1608.4L973.7 1623.3L940.1 1618.1Z"/>
<path fill="#000090" d="M1046.3 1592.3L1080.3 1596.6L1044.1 1612.9L1010.2 1608.4Z"/>
<path fill="#000097" d="M1116.2 1579.2L1150.5 1582.7L1114.6 1600.3L1080.3 1596.6Z"/>
<path fill="#00009e" d="M1186 1563.8L1220.7 1566.6L1185.1 1585.6L1150.5 1582.7Z"/>
<path fill="#0000a7" d="M1255.9 1546.2L1291 1548.2L1255.7 1568.8L1220.7 1566.6Z"/>
<path fill="#0000b1" d="M1325.9 1526.3L1361.3 1527.5L1326.3 1549.6L1291 1548.2Z"/>
<path fill="#0000bd" d="M1396 1503.9L1431.8 1504.4L1397.1 1528.1L1361.3 1527.5Z"/>
<path fill="#0000c9" d="M1466.3 1479L1502.5 1478.7L1468 1504.1L1431.8 1504.4Z"/>
<path fill="#0000d7" d="M1536.7 1451.6L1573.3 1450.5L1539.1 1477.7L1502.5 1478.7Z"/>
<path fill="#0000e6" d="M1607.3 1421.6L1644.4 1419.6L1610.3 1448.7L1573.3 1450.5Z"/>
<path fill="#0000f7" d="M1678.2 1388.9L1715.7 1386.1L1681.8 1417L1644.4 1419.6Z"/>
<path fill="#000fec" d="M1749.3 1353.4L1787.2 1349.8L1753.6 1382.6L1715.7 1386.1Z"/>
<path fill="#002bc5" d="M1820.7 1315.2L1859.1 1310.8L1825.6 1345.6L1787.2 1349.8Z"/>
<path fill="#004a9c" d="M1892.4 1274.1L1931.2 1268.9L1897.9 1305.7L1859.1 1310.8Z"/>
<path fill="#000090" d="M1010.2 1608.4L1044.1 1612.9L1007.6 1627.9L973.7 1623.3Z"/>
<path fill="#000096" d="M1080.3 1596.6L1114.6 1600.3L1078.4 1616.7L1044.1 1612.9Z"/>
<path fill="#00009d" d="M1150.5 1582.7L1185.1 1585.6L1149.2 1603.3L1114.6 1600.3Z"/>
<path fill="#0000a5" d="M1220.7 1566.6L1255.7 1568.8L1220.1 1587.9L1185.1 1585.6Z"/>
<path fill="#0000ae" d="M1291 1548.2L1326.3 1549.6L1291.1 1570.2L1255.7 1568.8Z"/>
<path fill="#0000b8" d="M1361.3 1527.5L1397.1 1528.1L1362.1 1550.2L1326.3 1549.6Z"/>
<path fill="#0000c4" d="M1431.8 1504.4L1468 1504.1L1433.3 1527.9L1397.1 1528.1Z"/>
<path fill="#0000d1" d="M1502.5 1478.7L1539.1 1477.7L1504.6 1503.2L1468 1504.1Z"/>
<path fill="#0000df" d="M1573.3 1450.5L1610.3 1448.7L1576.1 1475.9L1539.1 1477.7Z"/>
<path fill="#0000ef" d="M1644.4 1419.6L1681.8 1417L1647.8 1446.1L1610.3 1448.7Z"/>
<path fill="#0001fe" d="M1715.7 1386.1L1753.6 1382.6L1719.7 1413.6L1681.8 1417Z"/>
<path fill="#001cd9" d="M1787.2 1349.8L1825.6 1345.6L1791.9 1378.5L1753.6 1382.6Z"/>
<path fill="#003ab2" d="M1859.1 1310.8L1897.9 1305.7L1864.3 1340.6L1825.6 1345.6Z"/>
<path fill="#000096" d="M1044.1 1612.9L1078.4 1616.7L1041.8 1631.9L1007.6 1627.9Z"/>
<path fill="#00009c" d="M1114.6 1600.3L1149.2 1603.3L1113 1619.8L1078.4 1616.7Z"/>
<path fill="#0000a3" d="M1185.1 1585.6L1220.1 1587.9L1184.2 1605.7L1149.2 1603.3Z"/>
<path fill="#0000ac" d="M1255.7 1568.8L1291.1 1570.2L1255.4 1589.4L1220.1 1587.9Z"/>
<path fill="#0000b5" d="M1326.3 1549.6L1362.1 1550.2L1326.8 1570.9L1291.1 1570.2Z"/>
<path fill="#0000c0" d="M1397.1 1528.1L1433.3 1527.9L1398.2 1550.1L1362.1 1550.2Z"/>
<path fill="#0000cc" d="M1468 1504.1L1504.6 1503.2L1469.8 1527L1433.3 1527.9Z"/>
<path fill="#0000d9" d="M1539.1 1477.7L1576.1 1475.9L1541.5 1501.5L1504.6 1503.2Z"/>
<path fill="#0000e8" d="M1610.3 1448.7L1647.8 1446.1L1613.4 1473.4L1576.1 1475.9Z"/>
<path fill="#0000f8" d="M1681.8 1417L1719.7 1413.6L1685.6 1442.8L1647.8 1446.1Z"/>
<path fill="#000feb" d="M1753.6 1382.6L1791.9 1378.5L1758 1409.5L1719.7 1413.6Z"/>
<path fill="#002bc6" d="M1825.6 1345.6L1864.3 1340.6L1830.6 1373.5L1791.9 1378.5Z"/>
<path fill="#00009c" d="M1078.4 1616.7L1113 1619.8L1076.4 1635.1L1041.8 1631.9Z"/>
<path fill="#0000a2" d="M1149.2 1603.3L1184.2 1605.7L1147.9 1622.2L1113 1619.8Z"/>
<path fill="#0000aa" d="M1220.1 1587.9L1255.4 1589.4L1219.5 1607.3L1184.2 1605.7Z"/>
<path fill="#0000b3" d="M1291.1 1570.2L1326.8 1570.9L1291.1 1590.2L1255.4 1589.4Z"/>
<path fill="#0000bd" d="M1362.1 1550.2L1398.2 1550.1L1362.9 1570.9L1326.8 1570.9Z"/>
<path fill="#0000c8" d="M1433.3 1527.9L1469.8 1527L1434.7 1549.3L1398.2 1550.1Z"/>
<path fill="#0000d4" d="M1504.6 1503.2L1541.5 1501.5L1506.7 1525.4L1469.8 1527Z"/>
<path fill="#0000e2" d="M1576.1 1475.9L1613.4 1473.4L1578.9 1499L1541.5 1501.5Z"/>
<path fill="#0000f1" d="M1647.8 1446.1L1685.6 1442.8L1651.2 1470.2L1613.4 1473.4Z"/>
<path fill="#0003fb" d="M1719.7 1413.6L1758 1409.5L1723.8 1438.7L1685.6 1442.8Z"/>
<path fill="#001dd8" d="M1791.9 1378.5L1830.6 1373.5L1796.7 1404.6L1758 1409.5Z"/>
<path fill="#0000a2" d="M1113 1619.8L1147.9 1622.2L1111.3 1637.6L1076.4 1635.1Z"/>
<path fill="#0000a9" d="M1184.2 1605.7L1219.5 1607.3L1183.2 1623.9L1147.9 1622.2Z"/>
<path fill="#0000b1" d="M1255.4 1589.4L1291.1 1590.2L1255.2 1608.1L1219.5 1607.3Z"/>
<path fill="#0000ba" d="M1326.8 1570.9L1362.9 1570.9L1327.2 1590.2L1291.1 1590.2Z"/>
<path fill="#0000c5" d="M1398.2 1550.1L1434.7 1549.3L1399.3 1570.1L1362.9 1570.9Z"/>
<path fill="#0000d0" d="M1469.8 1527L1506.7 1525.4L1471.6 1547.7L1434.7 1549.3Z"/>
<path fill="#0000dd" d="M1541.5 1501.5L1578.9 1499L1544 1523L1506.7 1525.4Z"/>
<path fill="#0000eb" d="M1613.4 1473.4L1651.2 1470.2L1616.6 1495.8L1578.9 1499Z"/>
<path fill="#0000fa" d="M1685.6 1442.8L1723.8 1438.7L1689.4 1466.2L1651.2 1470.2Z"/>
<path fill="#0011e8" d="M1758 1409.5L1796.7 1404.6L1762.5 1433.9L1723.8 1438.7Z"/>
<path fill="#0000a9" d="M1147.9 1622.2L1183.2 1623.9L1146.6 1639.4L1111.3 1637.6Z"/>
<path fill="#0000b0" d="M1219.5 1607.3L1255.2 1608.1L1218.9 1624.8L1183.2 1623.9Z"/>
<path fill="#0000b9" d="M1291.1 1590.2L1327.2 1590.2L1291.2 1608.2L1255.2 1608.1Z"/>
<path fill="#0000c2" d="M1362.9 1570.9L1399.3 1570.1L1363.7 1589.5L1327.2 1590.2Z"/>
<path fill="#0000cd" d="M1434.7 1549.3L1471.6 1547.7L1436.2 1568.6L1399.3 1570.1Z"/>
<path fill="#0000d9" d="M1506.7 1525.4L1544 1523L1508.9 1545.4L1471.6 1547.7Z"/>
<path fill="#0000e6" d="M1578.9 1499L1616.6 1495.8L1581.8 1519.8L1544 1523Z"/>
<path fill="#0000f4" d="M1651.2 1470.2L1689.4 1466.2L1654.8 1491.8L1616.6 1495.8Z"/>
<path fill="#0007f5" d="M1723.8 1438.7L1762.5 1433.9L1728.1 1461.3L1689.4 1466.2Z"/>
<path fill="#0000b0" d="M1183.2 1623.9L1218.9 1624.8L1182.2 1640.4L1146.6 1639.4Z"/>
<path fill="#0000b8" d="M1255.2 1608.1L1291.2 1608.2L1254.9 1625L1218.9 1624.8Z"/>
<path fill="#0000c1" d="M1327.2 1590.2L1363.7 1589.5L1327.6 1607.5L1291.2 1608.2Z"/>
<path fill="#0000cb" d="M1399.3 1570.1L1436.2 1568.6L1400.5 1588L1363.7 1589.5Z"/>
<path fill="#0000d6" d="M1471.6 1547.7L1508.9 1545.4L1473.5 1566.2L1436.2 1568.6Z"/>
<path fill="#0000e2" d="M1544 1523L1581.8 1519.8L1546.6 1542.2L1508.9 1545.4Z"/>
<path fill="#0000ef" d="M1616.6 1495.8L1654.8 1491.8L1619.9 1515.8L1581.8 1519.8Z"/>
<path fill="#0000fe" d="M1689.4 1466.2L1728.1 1461.3L1693.4 1487L1654.8 1491.8Z"/>
<path fill="#0000b8" d="M1218.9 1624.8L1254.9 1625L1218.2 1640.6L1182.2 1640.4Z"/>
<path fill="#0000c0" d="M1291.2 1608.2L1327.6 1607.5L1291.3 1624.3L1254.9 1625Z"/>
<path fill="#0000c9" d="M1363.7 1589.5L1400.5 1588L1364.4 1606L1327.6 1607.5Z"/>
<path fill="#0000d3" d="M1436.2 1568.6L1473.5 1566.2L1437.7 1585.6L1400.5 1588Z"/>
<path fill="#0000df" d="M1508.9 1545.4L1546.6 1542.2L1511.1 1563L1473.5 1566.2Z"/>
<path fill="#0000eb" d="M1581.8 1519.8L1619.9 1515.8L1584.7 1538.2L1546.6 1542.2Z"/>
<path fill="#0000f9" d="M1654.8 1491.8L1693.4 1487L1658.5 1510.9L1619.9 1515.8Z"/>
<path fill="#0000c0" d="M1254.9 1625L1291.3 1624.3L1254.6 1640L1218.2 1640.6Z"/>
<path fill="#0000c8" d="M1327.6 1607.5L1364.4 1606L1328.1 1622.9L1291.3 1624.3Z"/>
<path fill="#0000d2" d="M1400.5 1588L1437.7 1585.6L1401.7 1603.7L1364.4 1606Z"/>
<path fill="#0000dd" d="M1473.5 1566.2L1511.1 1563L1475.4 1582.4L1437.7 1585.6Z"/>
<path fill="#0000e8" d="M1546.6 1542.2L1584.7 1538.2L1549.2 1559L1511.1 1563Z"/>
<path fill="#0000f5" d="M1619.9 1515.8L1658.5 1510.9L1623.3 1533.3L1584.7 1538.2Z"/>
<path fill="#0000c8" d="M1291.3 1624.3L1328.1 1622.9L1291.3 1638.6L1254.6 1640Z"/>
<path fill="#0000d1" d="M1364.4 1606L1401.7 1603.7L1365.2 1620.5L1328.1 1622.9Z"/>
<path fill="#0000db" d="M1437.7 1585.6L1475.4 1582.4L1439.3 1600.5L1401.7 1603.7Z"/>
<path fill="#0000e6" d="M1511.1 1563L1549.2 1559L1513.4 1578.3L1475.4 1582.4Z"/>
<path fill="#0000f2" d="M1584.7 1538.2L1623.3 1533.3L1587.8 1554L1549.2 1559Z"/>
<path fill="#0000d1" d="M1328.1 1622.9L1365.2 1620.5L1328.5 1636.2L1291.3 1638.6Z"/>
<path fill="#0000db" d="M1401.7 1603.7L1439.3 1600.5L1402.8 1617.3L1365.2 1620.5Z"/>
<path fill="#0000e5" d="M1475.4 1582.4L1513.4 1578.3L1477.3 1596.3L1439.3 1600.5Z"/>
<path fill="#0000f0" d="M1549.2 1559L1587.8 1554L1552 1573.3L1513.4 1578.3Z"/>
<path fill="#0000db" d="M1365.2 1620.5L1402.8 1617.3L1366 1633L1328.5 1636.2Z"/>
<path fill="#0000e4" d="M1439.3 1600.5L1477.3 1596.3L1440.9 1613.1L1402.8 1617.3Z"/>
<path fill="#0000ef" d="M1513.4 1578.3L1552 1573.3L1515.8 1591.3L1477.3 1596.3Z"/>
<path fill="#0000e4" d="M1402.8 1617.3L1440.9 1613.1L1404 1628.8L1366 1633Z"/>
<path fill="#0000ee" d="M1477.3 1596.3L1515.8 1591.3L1479.3 1608L1440.9 1613.1Z"/>
<path fill="#0000ee" d="M1440.9 1613.1L1479.3 1608L1442.5 1623.6L1404 1628.8Z"/>
</g>
<g stroke="#000" stroke-width="3.3" fill="none">
<path d="M445.6 1579.4L430.7 1585.2"/>
<path d="M437.6 1423.6L422.6 1429.2"/>
<path d="M429.5 1265.2L414.4 1270.6"/>
<path d="M421.3 1104.3L406.1 1109.3"/>
<path d="M412.9 940.6L397.7 945.4"/>
<path d="M404.4 774.2L389.1 778.7"/>
<path d="M395.8 605L380.3 609.2"/>
<path d="M387 432.8L371.5 436.8"/>
<path d="M378 257.7L362.4 261.3"/>
<path d="M1322.1 1984.8L1307.7 1991.8"/>
<path d="M1105.1 1884.4L1090.5 1891.1"/>
<path d="M899.4 1789.3L884.7 1795.7"/>
<path d="M704.1 1699L689.3 1705.1"/>
<path d="M518.5 1613.1L503.7 1619"/>
<path d="M2308.2 1605.2L2323.2 1610.8"/>
<path d="M2133.2 1693.1L2148.1 1698.9"/>
<path d="M1948.9 1785.7L1963.8 1791.7"/>
<path d="M1754.5 1883.3L1769.2 1889.6"/>
<path d="M1549.1 1986.5L1563.7 1993.1"/>
</g>
<g font-family="'Liberation Sans', Arial, sans-serif" font-size="66.5" fill="#000">
<text x="405.6" y="1611.2" text-anchor="end">0.005</text>
<text x="397.6" y="1455.4" text-anchor="end">0.010</text>
<text x="389.5" y="1297" text-anchor="end">0.015</text>
<text x="381.3" y="1136.1" text-anchor="end">0.020</text>
<text x="372.9" y="972.4" text-anchor="end">0.025</text>
<text x="364.4" y="806" text-anchor="end">0.030</text>
<text x="355.8" y="636.8" text-anchor="end">0.035</text>
<text x="347" y="464.6" text-anchor="end">0.040</text>
<text x="338" y="289.5" text-anchor="end">0.045</text>
<text x="1221.6" y="2064.6" text-anchor="middle">0.03</text>
<text x="1004.6" y="1961.7" text-anchor="middle">0.04</text>
<text x="798.9" y="1866.6" text-anchor="middle">0.05</text>
<text x="603.1" y="1774.3" text-anchor="middle">0.06</text>
<text x="2344.2" y="1641.2">60</text>
<text x="2171.2" y="1730.4">80</text>
<text x="1986.9" y="1825">100</text>
<text x="1792.5" y="1922.6">120</text>
<text x="1588.1" y="2026.8">140</text>
</g>
<rect x="463" y="273" width="467" height="754" fill="#fff" stroke="#000" stroke-width="6"/>
<g stroke="#000" stroke-width="5.5">
<rect x="511.1" y="333.9" width="149.2" height="47.5" fill="#1b007f"/>
<rect x="511.1" y="407.1" width="149.2" height="47.5" fill="#000099"/>
<rect x="511.1" y="480.2" width="149.2" height="47.5" fill="#0000e6"/>
<rect x="511.1" y="553.3" width="149.2" height="47.5" fill="#004c99"/>
<rect x="511.1" y="626.4" width="149.2" height="47.5" fill="#00bf00"/>
<rect x="511.1" y="699.5" width="149.2" height="47.5" fill="#99e600"/>
<rect x="511.1" y="772.7" width="149.2" height="47.5" fill="#ffe600"/>
<rect x="511.1" y="845.8" width="149.2" height="47.5" fill="#ff9900"/>
<rect x="511.1" y="918.9" width="149.2" height="47.5" fill="#ff4c00"/>
</g>
<g font-family="'Liberation Sans', Arial, sans-serif" font-size="66.5" fill="#000">
<text x="697.5" y="380.2">0.005</text>
<text x="697.5" y="453.3">0.010</text>
<text x="697.5" y="526.4">0.015</text>
<text x="697.5" y="599.6">0.020</text>
<text x="697.5" y="672.7">0.025</text>
<text x="697.5" y="745.8">0.030</text>
<text x="697.5" y="818.9">0.035</text>
<text x="697.5" y="892">0.040</text>
<text x="697.5" y="965.2">0.045</text>
</g>
<g font-family="'Liberation Sans', Arial, sans-serif" font-size="80" fill="#000">
<text transform="translate(178.8 1579) rotate(-92.8)">NG processing cost, $/m<tspan font-size="55" dy="-43" dx="-1">3</tspan><tspan dy="43" dx="0"> sweet NG</tspan></text>
<text transform="translate(45 1739) rotate(24.3)">CO<tspan font-size="55" dy="22" dx="-1">2</tspan><tspan dy="-22" dx="0"> permeance, m</tspan><tspan font-size="55" dy="-43" dx="-1">3</tspan><tspan dy="43" dx="2">(STP)/(m</tspan><tspan font-size="55" dy="-43" dx="-1">2</tspan><tspan dy="43" dx="2">·h·bar)</tspan></text>
<text transform="translate(1686.5 2129) rotate(-26.7)">CO<tspan font-size="55" dy="22" dx="-1">2</tspan><tspan dy="-22" dx="0">/CH</tspan><tspan font-size="55" dy="22" dx="-1">4</tspan><tspan dy="-22" dx="0"> selectivity</tspan></text>
</g>
</svg>
</body>
</html>
